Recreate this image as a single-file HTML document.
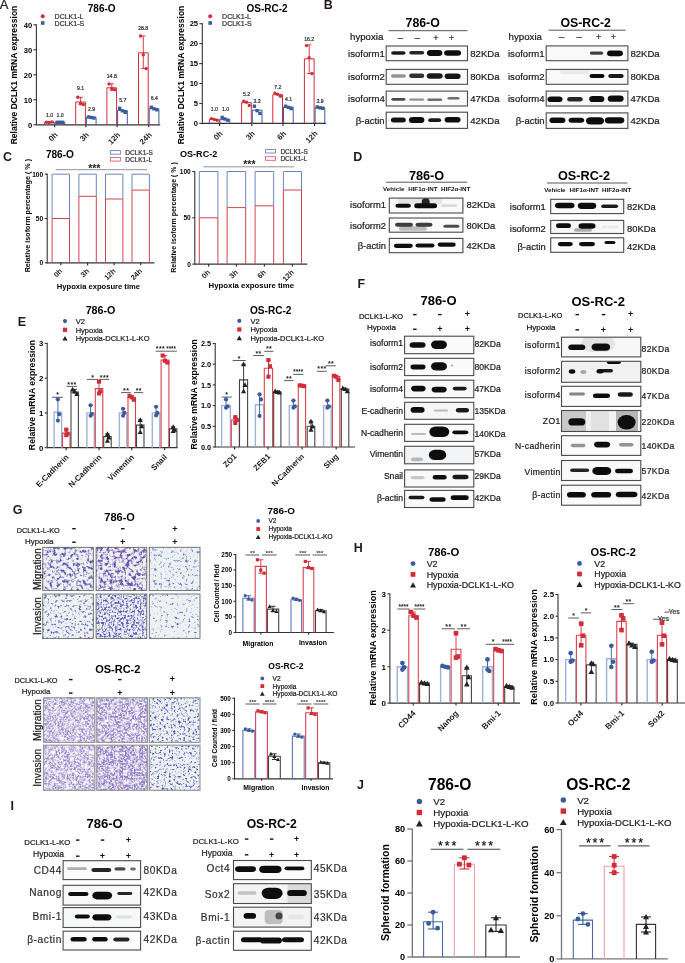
<!DOCTYPE html>
<html><head><meta charset="utf-8"><style>
html,body{margin:0;padding:0;background:#fff;}
svg{display:block;font-family:"Liberation Sans", sans-serif;}
</style></head><body>
<svg style="will-change:transform" width="685" height="963" viewBox="0 0 685 963">
<defs>
<filter id="bl" x="-30%" y="-80%" width="160%" height="260%"><feGaussianBlur stdDeviation="0.7"/></filter>
<filter id="fA" x="0" y="0" width="1" height="1" filterUnits="objectBoundingBox" color-interpolation-filters="sRGB"><feTurbulence type="fractalNoise" baseFrequency="0.3" numOctaves="3" seed="3"/><feColorMatrix type="matrix" values="0 0 0 0 0.38  0 0 0 0 0.32  0 0 0 0 0.7  -4 0 0 0 2.080"/><feGaussianBlur stdDeviation="0.4"/></filter><filter id="fB" x="0" y="0" width="1" height="1" filterUnits="objectBoundingBox" color-interpolation-filters="sRGB"><feTurbulence type="fractalNoise" baseFrequency="0.3" numOctaves="3" seed="5"/><feColorMatrix type="matrix" values="0 0 0 0 0.42  0 0 0 0 0.31  0 0 0 0 0.68  -4 0 0 0 2.199"/><feGaussianBlur stdDeviation="0.4"/></filter><filter id="fC" x="0" y="0" width="1" height="1" filterUnits="objectBoundingBox" color-interpolation-filters="sRGB"><feTurbulence type="fractalNoise" baseFrequency="0.35" numOctaves="3" seed="8"/><feColorMatrix type="matrix" values="0 0 0 0 0.38  0 0 0 0 0.45  0 0 0 0 0.8  -4 0 0 0 1.742"/><feGaussianBlur stdDeviation="0.4"/></filter><filter id="iA" x="0" y="0" width="1" height="1" filterUnits="objectBoundingBox" color-interpolation-filters="sRGB"><feTurbulence type="fractalNoise" baseFrequency="0.38" numOctaves="3" seed="11"/><feColorMatrix type="matrix" values="0 0 0 0 0.33  0 0 0 0 0.36  0 0 0 0 0.74  -4 0 0 0 1.846"/><feGaussianBlur stdDeviation="0.4"/></filter><filter id="iB" x="0" y="0" width="1" height="1" filterUnits="objectBoundingBox" color-interpolation-filters="sRGB"><feTurbulence type="fractalNoise" baseFrequency="0.45" numOctaves="3" seed="13"/><feColorMatrix type="matrix" values="0 0 0 0 0.34  0 0 0 0 0.35  0 0 0 0 0.74  -4 0 0 0 2.214"/><feGaussianBlur stdDeviation="0.35"/></filter><filter id="iC" x="0" y="0" width="1" height="1" filterUnits="objectBoundingBox" color-interpolation-filters="sRGB"><feTurbulence type="fractalNoise" baseFrequency="0.35" numOctaves="3" seed="17"/><feColorMatrix type="matrix" values="0 0 0 0 0.3  0 0 0 0 0.34  0 0 0 0 0.76  -4 0 0 0 1.586"/><feGaussianBlur stdDeviation="0.4"/></filter><filter id="oA" x="0" y="0" width="1" height="1" filterUnits="objectBoundingBox" color-interpolation-filters="sRGB"><feTurbulence type="fractalNoise" baseFrequency="0.55" numOctaves="3" seed="21"/><feColorMatrix type="matrix" values="0 0 0 0 0.6  0 0 0 0 0.53  0 0 0 0 0.8  -3 0 0 0 2.016"/><feGaussianBlur stdDeviation="0.3"/></filter><filter id="oB" x="0" y="0" width="1" height="1" filterUnits="objectBoundingBox" color-interpolation-filters="sRGB"><feTurbulence type="fractalNoise" baseFrequency="0.55" numOctaves="3" seed="23"/><feColorMatrix type="matrix" values="0 0 0 0 0.58  0 0 0 0 0.5  0 0 0 0 0.79  -3 0 0 0 2.057"/><feGaussianBlur stdDeviation="0.3"/></filter><filter id="oC" x="0" y="0" width="1" height="1" filterUnits="objectBoundingBox" color-interpolation-filters="sRGB"><feTurbulence type="fractalNoise" baseFrequency="0.42" numOctaves="3" seed="29"/><feColorMatrix type="matrix" values="0 0 0 0 0.28  0 0 0 0 0.32  0 0 0 0 0.74  -4 0 0 0 1.940"/><feGaussianBlur stdDeviation="0.4"/></filter><filter id="oA2" x="0" y="0" width="1" height="1" filterUnits="objectBoundingBox" color-interpolation-filters="sRGB"><feTurbulence type="fractalNoise" baseFrequency="0.55" numOctaves="3" seed="31"/><feColorMatrix type="matrix" values="0 0 0 0 0.6  0 0 0 0 0.53  0 0 0 0 0.8  -3 0 0 0 2.000"/><feGaussianBlur stdDeviation="0.3"/></filter><filter id="oB2" x="0" y="0" width="1" height="1" filterUnits="objectBoundingBox" color-interpolation-filters="sRGB"><feTurbulence type="fractalNoise" baseFrequency="0.55" numOctaves="3" seed="33"/><feColorMatrix type="matrix" values="0 0 0 0 0.56  0 0 0 0 0.48  0 0 0 0 0.78  -3 0 0 0 2.121"/><feGaussianBlur stdDeviation="0.3"/></filter><filter id="oC2" x="0" y="0" width="1" height="1" filterUnits="objectBoundingBox" color-interpolation-filters="sRGB"><feTurbulence type="fractalNoise" baseFrequency="0.42" numOctaves="3" seed="37"/><feColorMatrix type="matrix" values="0 0 0 0 0.28  0 0 0 0 0.32  0 0 0 0 0.74  -4 0 0 0 1.892"/><feGaussianBlur stdDeviation="0.4"/></filter><filter id="wm" x="0" y="0" width="1" height="1" filterUnits="objectBoundingBox" color-interpolation-filters="sRGB"><feTurbulence type="fractalNoise" baseFrequency="0.2" numOctaves="2" seed="41"/><feColorMatrix type="matrix" values="0 0 0 0 1  0 0 0 0 1  0 0 0 0 1  3.0 0 0 0 -1.45"/></filter><filter id="wm2" x="0" y="0" width="1" height="1" filterUnits="objectBoundingBox" color-interpolation-filters="sRGB"><feTurbulence type="fractalNoise" baseFrequency="0.2" numOctaves="2" seed="43"/><feColorMatrix type="matrix" values="0 0 0 0 1  0 0 0 0 1  0 0 0 0 1  3.0 0 0 0 -1.45"/></filter>
</defs>
<rect width="685" height="963" fill="#fff"/>
<text x="-0.3" y="9.4" font-size="13" fill="#231815" stroke="#231815" stroke-width="0.22">A</text>
<text x="323.7" y="9.3" font-size="12.5" font-weight="bold" fill="#231815">B</text>
<text x="3.0" y="161.1" font-size="12.5" font-weight="bold" fill="#231815">C</text>
<text x="353.2" y="161.0" font-size="12.5" font-weight="bold" fill="#231815">D</text>
<text x="17.8" y="326.0" font-size="12.5" font-weight="bold" fill="#231815">E</text>
<text x="357.4" y="287.7" font-size="12.5" font-weight="bold" fill="#231815">F</text>
<text x="12.7" y="513.5" font-size="12.5" font-weight="bold" fill="#231815">G</text>
<text x="353.7" y="551.8" font-size="12.5" font-weight="bold" fill="#231815">H</text>
<text x="10.4" y="809.9" font-size="12.5" font-weight="bold" fill="#231815">I</text>
<text x="357.1" y="788.9" font-size="12.5" font-weight="bold" fill="#231815">J</text>
<text x="101.7" y="12.3" font-size="10" font-weight="bold" text-anchor="middle">786-O</text>
<circle cx="42.7" cy="16.3" r="2.0" fill="#d12c38"/>
<text x="54.6" y="18.8" font-size="7" fill="#333" stroke="#333" stroke-width="0.22">DCLK1-L</text>
<rect x="40.9" y="21.2" width="3.6" height="3.6" fill="#3b5b9c"/>
<text x="54.6" y="25.5" font-size="7" fill="#333" stroke="#333" stroke-width="0.22">DCLK1-S</text>
<line x1="36.4" y1="24.2" x2="36.4" y2="125.3" stroke="#333" stroke-width="1.1"/>
<line x1="33.4" y1="124.8" x2="36.4" y2="124.8" stroke="#333" stroke-width="1.1"/>
<text x="32.2" y="127.5" font-size="7.6" font-weight="bold" text-anchor="end">0</text>
<line x1="33.4" y1="99.8" x2="36.4" y2="99.8" stroke="#333" stroke-width="1.1"/>
<text x="32.2" y="102.5" font-size="7.6" font-weight="bold" text-anchor="end">10</text>
<line x1="33.4" y1="74.8" x2="36.4" y2="74.8" stroke="#333" stroke-width="1.1"/>
<text x="32.2" y="77.5" font-size="7.6" font-weight="bold" text-anchor="end">20</text>
<line x1="33.4" y1="49.8" x2="36.4" y2="49.8" stroke="#333" stroke-width="1.1"/>
<text x="32.2" y="52.5" font-size="7.6" font-weight="bold" text-anchor="end">30</text>
<line x1="33.4" y1="24.8" x2="36.4" y2="24.8" stroke="#333" stroke-width="1.1"/>
<text x="32.2" y="27.5" font-size="7.6" font-weight="bold" text-anchor="end">40</text>
<line x1="36.4" y1="124.8" x2="160.2" y2="124.8" stroke="#333" stroke-width="1.2"/>
<line x1="54.6" y1="124.8" x2="54.6" y2="127.3" stroke="#333" stroke-width="1.2"/>
<line x1="85.9" y1="124.8" x2="85.9" y2="127.3" stroke="#333" stroke-width="1.2"/>
<line x1="117.1" y1="124.8" x2="117.1" y2="127.3" stroke="#333" stroke-width="1.2"/>
<line x1="148.7" y1="124.8" x2="148.7" y2="127.3" stroke="#333" stroke-width="1.2"/>
<text transform="translate(14.3,75.0) rotate(-90)" y="3.06" font-size="8.5" font-weight="bold" text-anchor="middle">Relative DCLK1 mRNA expression</text>
<path d="M44.4 124.8V122.3H54.1V124.8" fill="none" stroke="#d12c38" stroke-width="1.0"/>
<circle cx="46.5" cy="122.3" r="1.7" fill="#d12c38"/>
<circle cx="49.2" cy="122.5" r="1.7" fill="#d12c38"/>
<circle cx="52.0" cy="122.0" r="1.7" fill="#d12c38"/>
<path d="M55.1 124.8V122.3H64.8V124.8" fill="none" stroke="#3b5b9c" stroke-width="1.0"/>
<rect x="55.5" y="120.6" width="3.4" height="3.4" fill="#3b5b9c"/>
<rect x="58.2" y="120.6" width="3.4" height="3.4" fill="#3b5b9c"/>
<rect x="61.0" y="120.6" width="3.4" height="3.4" fill="#3b5b9c"/>
<path d="M75.7 124.8V102.0H85.4V124.8" fill="none" stroke="#d12c38" stroke-width="1.0"/>
<line x1="80.6" y1="104.8" x2="80.6" y2="97.3" stroke="#d12c38" stroke-width="0.9"/>
<line x1="78.4" y1="97.3" x2="82.7" y2="97.3" stroke="#d12c38" stroke-width="0.9"/>
<line x1="78.4" y1="104.8" x2="82.7" y2="104.8" stroke="#d12c38" stroke-width="0.9"/>
<circle cx="77.8" cy="97.3" r="1.7" fill="#d12c38"/>
<circle cx="80.6" cy="103.3" r="1.7" fill="#d12c38"/>
<circle cx="83.3" cy="104.5" r="1.7" fill="#d12c38"/>
<path d="M86.4 124.8V117.5H96.1V124.8" fill="none" stroke="#3b5b9c" stroke-width="1.0"/>
<rect x="86.8" y="115.3" width="3.4" height="3.4" fill="#3b5b9c"/>
<rect x="89.5" y="115.8" width="3.4" height="3.4" fill="#3b5b9c"/>
<rect x="92.3" y="116.3" width="3.4" height="3.4" fill="#3b5b9c"/>
<path d="M106.9 124.8V87.8H116.6V124.8" fill="none" stroke="#d12c38" stroke-width="1.0"/>
<line x1="111.8" y1="90.3" x2="111.8" y2="83.8" stroke="#d12c38" stroke-width="0.9"/>
<line x1="109.6" y1="83.8" x2="113.9" y2="83.8" stroke="#d12c38" stroke-width="0.9"/>
<line x1="109.6" y1="90.3" x2="113.9" y2="90.3" stroke="#d12c38" stroke-width="0.9"/>
<circle cx="109.0" cy="84.0" r="1.7" fill="#d12c38"/>
<circle cx="111.8" cy="88.5" r="1.7" fill="#d12c38"/>
<circle cx="114.5" cy="89.8" r="1.7" fill="#d12c38"/>
<path d="M117.6 124.8V110.5H127.3V124.8" fill="none" stroke="#3b5b9c" stroke-width="1.0"/>
<rect x="118.0" y="106.6" width="3.4" height="3.4" fill="#3b5b9c"/>
<rect x="120.7" y="109.1" width="3.4" height="3.4" fill="#3b5b9c"/>
<rect x="123.5" y="110.6" width="3.4" height="3.4" fill="#3b5b9c"/>
<path d="M138.5 124.8V52.8H148.2V124.8" fill="none" stroke="#d12c38" stroke-width="1.0"/>
<line x1="143.3" y1="68.5" x2="143.3" y2="36.0" stroke="#d12c38" stroke-width="0.9"/>
<line x1="141.2" y1="36.0" x2="145.5" y2="36.0" stroke="#d12c38" stroke-width="0.9"/>
<line x1="141.2" y1="68.5" x2="145.5" y2="68.5" stroke="#d12c38" stroke-width="0.9"/>
<circle cx="140.6" cy="36.0" r="1.7" fill="#d12c38"/>
<circle cx="143.3" cy="54.8" r="1.7" fill="#d12c38"/>
<circle cx="146.1" cy="68.5" r="1.7" fill="#d12c38"/>
<path d="M149.2 124.8V108.8H158.9V124.8" fill="none" stroke="#3b5b9c" stroke-width="1.0"/>
<rect x="149.6" y="105.6" width="3.4" height="3.4" fill="#3b5b9c"/>
<rect x="152.3" y="107.1" width="3.4" height="3.4" fill="#3b5b9c"/>
<rect x="155.1" y="108.1" width="3.4" height="3.4" fill="#3b5b9c"/>
<text x="49.6" y="117.3" font-size="5.2" text-anchor="middle" fill="#333" stroke="#333" stroke-width="0.22">1.0</text>
<text x="60.0" y="117.3" font-size="5.2" text-anchor="middle" fill="#333" stroke="#333" stroke-width="0.22">1.0</text>
<text x="80.5" y="89.5" font-size="5.2" text-anchor="middle" fill="#333" stroke="#333" stroke-width="0.22">9.1</text>
<text x="91.5" y="111.1" font-size="5.2" text-anchor="middle" fill="#333" stroke="#333" stroke-width="0.22">2.9</text>
<text x="111.8" y="78.1" font-size="5.2" text-anchor="middle" fill="#333" stroke="#333" stroke-width="0.22">14.8</text>
<text x="122.8" y="101.9" font-size="5.2" text-anchor="middle" fill="#333" stroke="#333" stroke-width="0.22">5.7</text>
<text x="143.2" y="29.7" font-size="5.2" text-anchor="middle" fill="#333" stroke="#333" stroke-width="0.22">28.8</text>
<text x="154.3" y="99.9" font-size="5.2" text-anchor="middle" fill="#333" stroke="#333" stroke-width="0.22">6.4</text>
<text transform="translate(58.2,135.4) rotate(-45)" font-size="7.8" font-weight="bold" text-anchor="end" fill="#1a1a1a">0h</text>
<text transform="translate(89.5,135.4) rotate(-45)" font-size="7.8" font-weight="bold" text-anchor="end" fill="#1a1a1a">3h</text>
<text transform="translate(120.7,135.4) rotate(-45)" font-size="7.8" font-weight="bold" text-anchor="end" fill="#1a1a1a">12h</text>
<text transform="translate(152.3,135.4) rotate(-45)" font-size="7.8" font-weight="bold" text-anchor="end" fill="#1a1a1a">24h</text>
<text x="267.0" y="12.3" font-size="10" font-weight="bold" text-anchor="middle">OS-RC-2</text>
<circle cx="210.2" cy="16.3" r="2.0" fill="#d12c38"/>
<text x="222.1" y="18.8" font-size="7" fill="#333" stroke="#333" stroke-width="0.22">DCLK1-L</text>
<rect x="208.4" y="21.2" width="3.6" height="3.6" fill="#3b5b9c"/>
<text x="222.1" y="25.5" font-size="7" fill="#333" stroke="#333" stroke-width="0.22">DCLK1-S</text>
<line x1="202.3" y1="23.1" x2="202.3" y2="124.0" stroke="#333" stroke-width="1.1"/>
<line x1="199.3" y1="123.4" x2="202.3" y2="123.4" stroke="#333" stroke-width="1.1"/>
<text x="198.1" y="126.1" font-size="7.6" font-weight="bold" text-anchor="end">0</text>
<line x1="199.3" y1="103.5" x2="202.3" y2="103.5" stroke="#333" stroke-width="1.1"/>
<text x="198.1" y="106.2" font-size="7.6" font-weight="bold" text-anchor="end">5</text>
<line x1="199.3" y1="83.5" x2="202.3" y2="83.5" stroke="#333" stroke-width="1.1"/>
<text x="198.1" y="86.2" font-size="7.6" font-weight="bold" text-anchor="end">10</text>
<line x1="199.3" y1="63.6" x2="202.3" y2="63.6" stroke="#333" stroke-width="1.1"/>
<text x="198.1" y="66.3" font-size="7.6" font-weight="bold" text-anchor="end">15</text>
<line x1="199.3" y1="43.6" x2="202.3" y2="43.6" stroke="#333" stroke-width="1.1"/>
<text x="198.1" y="46.3" font-size="7.6" font-weight="bold" text-anchor="end">20</text>
<line x1="199.3" y1="23.7" x2="202.3" y2="23.7" stroke="#333" stroke-width="1.1"/>
<text x="198.1" y="26.4" font-size="7.6" font-weight="bold" text-anchor="end">25</text>
<line x1="202.3" y1="123.4" x2="326.1" y2="123.4" stroke="#333" stroke-width="1.2"/>
<line x1="219.6" y1="123.4" x2="219.6" y2="125.9" stroke="#333" stroke-width="1.2"/>
<line x1="251.8" y1="123.4" x2="251.8" y2="125.9" stroke="#333" stroke-width="1.2"/>
<line x1="283.0" y1="123.4" x2="283.0" y2="125.9" stroke="#333" stroke-width="1.2"/>
<line x1="314.6" y1="123.4" x2="314.6" y2="125.9" stroke="#333" stroke-width="1.2"/>
<text transform="translate(180.5,75.0) rotate(-90)" y="3.06" font-size="8.5" font-weight="bold" text-anchor="middle">Relative DCLK1 mRNA expression</text>
<path d="M209.4 123.4V119.4H219.1V123.4" fill="none" stroke="#d12c38" stroke-width="1.0"/>
<circle cx="211.5" cy="118.6" r="1.7" fill="#d12c38"/>
<circle cx="214.2" cy="119.4" r="1.7" fill="#d12c38"/>
<circle cx="217.0" cy="120.2" r="1.7" fill="#d12c38"/>
<path d="M220.1 123.4V119.4H229.8V123.4" fill="none" stroke="#3b5b9c" stroke-width="1.0"/>
<rect x="220.5" y="115.7" width="3.4" height="3.4" fill="#3b5b9c"/>
<rect x="223.2" y="117.3" width="3.4" height="3.4" fill="#3b5b9c"/>
<rect x="226.0" y="118.5" width="3.4" height="3.4" fill="#3b5b9c"/>
<path d="M241.6 123.4V102.7H251.3V123.4" fill="none" stroke="#d12c38" stroke-width="1.0"/>
<circle cx="243.7" cy="101.1" r="1.7" fill="#d12c38"/>
<circle cx="246.5" cy="102.3" r="1.7" fill="#d12c38"/>
<circle cx="249.2" cy="105.4" r="1.7" fill="#d12c38"/>
<path d="M252.3 123.4V110.2H262.0V123.4" fill="none" stroke="#3b5b9c" stroke-width="1.0"/>
<rect x="252.7" y="104.5" width="3.4" height="3.4" fill="#3b5b9c"/>
<rect x="255.4" y="108.9" width="3.4" height="3.4" fill="#3b5b9c"/>
<rect x="258.2" y="111.7" width="3.4" height="3.4" fill="#3b5b9c"/>
<path d="M272.8 123.4V94.7H282.5V123.4" fill="none" stroke="#d12c38" stroke-width="1.0"/>
<circle cx="274.9" cy="93.1" r="1.7" fill="#d12c38"/>
<circle cx="277.6" cy="94.3" r="1.7" fill="#d12c38"/>
<circle cx="280.4" cy="96.3" r="1.7" fill="#d12c38"/>
<path d="M283.5 123.4V107.0H293.2V123.4" fill="none" stroke="#3b5b9c" stroke-width="1.0"/>
<rect x="283.9" y="104.5" width="3.4" height="3.4" fill="#3b5b9c"/>
<rect x="286.7" y="105.7" width="3.4" height="3.4" fill="#3b5b9c"/>
<rect x="289.4" y="106.9" width="3.4" height="3.4" fill="#3b5b9c"/>
<path d="M304.4 123.4V58.8H314.1V123.4" fill="none" stroke="#d12c38" stroke-width="1.0"/>
<line x1="309.2" y1="73.5" x2="309.2" y2="44.8" stroke="#d12c38" stroke-width="0.9"/>
<line x1="307.1" y1="44.8" x2="311.4" y2="44.8" stroke="#d12c38" stroke-width="0.9"/>
<line x1="307.1" y1="73.5" x2="311.4" y2="73.5" stroke="#d12c38" stroke-width="0.9"/>
<circle cx="306.5" cy="45.6" r="1.7" fill="#d12c38"/>
<circle cx="309.2" cy="57.6" r="1.7" fill="#d12c38"/>
<circle cx="312.0" cy="73.5" r="1.7" fill="#d12c38"/>
<path d="M315.1 123.4V107.8H324.8V123.4" fill="none" stroke="#3b5b9c" stroke-width="1.0"/>
<rect x="315.5" y="105.3" width="3.4" height="3.4" fill="#3b5b9c"/>
<rect x="318.3" y="106.1" width="3.4" height="3.4" fill="#3b5b9c"/>
<rect x="321.0" y="106.5" width="3.4" height="3.4" fill="#3b5b9c"/>
<text x="214.4" y="111.1" font-size="5.2" text-anchor="middle" fill="#333" stroke="#333" stroke-width="0.22">1.0</text>
<text x="225.6" y="111.1" font-size="5.2" text-anchor="middle" fill="#333" stroke="#333" stroke-width="0.22">1.0</text>
<text x="246.5" y="96.2" font-size="5.2" text-anchor="middle" fill="#333" stroke="#333" stroke-width="0.22">5.2</text>
<text x="257.0" y="102.9" font-size="5.2" text-anchor="middle" fill="#333" stroke="#333" stroke-width="0.22">3.3</text>
<text x="277.8" y="88.8" font-size="5.2" text-anchor="middle" fill="#333" stroke="#333" stroke-width="0.22">7.2</text>
<text x="288.6" y="100.7" font-size="5.2" text-anchor="middle" fill="#333" stroke="#333" stroke-width="0.22">4.1</text>
<text x="309.2" y="40.9" font-size="5.2" text-anchor="middle" fill="#333" stroke="#333" stroke-width="0.22">16.2</text>
<text x="320.0" y="103.2" font-size="5.2" text-anchor="middle" fill="#333" stroke="#333" stroke-width="0.22">3.9</text>
<text transform="translate(223.2,134.0) rotate(-45)" font-size="7.8" font-weight="bold" text-anchor="end" fill="#1a1a1a">0h</text>
<text transform="translate(255.4,134.0) rotate(-45)" font-size="7.8" font-weight="bold" text-anchor="end" fill="#1a1a1a">3h</text>
<text transform="translate(286.6,134.0) rotate(-45)" font-size="7.8" font-weight="bold" text-anchor="end" fill="#1a1a1a">6h</text>
<text transform="translate(318.2,134.0) rotate(-45)" font-size="7.8" font-weight="bold" text-anchor="end" fill="#1a1a1a">12h</text>
<text x="422.7" y="27.4" font-size="12.3" font-weight="bold" text-anchor="middle">786-O</text>
<line x1="388.6" y1="30.7" x2="467.4" y2="30.7" stroke="#444" stroke-width="0.9"/>
<text x="350.0" y="40.1" font-size="9.7" fill="#222" stroke="#222" stroke-width="0.22">hypoxia</text>
<text x="400.4" y="41.0" font-size="9.5" text-anchor="middle" fill="#333" stroke="#333" stroke-width="0.22">–</text>
<text x="417.5" y="41.0" font-size="9.5" text-anchor="middle" fill="#333" stroke="#333" stroke-width="0.22">–</text>
<text x="435.9" y="40.8" font-size="9" text-anchor="middle" fill="#333" stroke="#333" stroke-width="0.22">+</text>
<text x="451.7" y="40.8" font-size="9" text-anchor="middle" fill="#333" stroke="#333" stroke-width="0.22">+</text>
<rect x="386.2" y="46.0" width="81.3" height="14.7" fill="#fbfbfb"/>
<clipPath id="k1"><rect x="386.2" y="46.0" width="81.3" height="14.7"/></clipPath><g clip-path="url(#k1)">
<rect x="391.1" y="51.2" width="14.5" height="3.6" rx="2.2" fill="#111" fill-opacity="0.95" filter="url(#bl)"/>
<rect x="409.2" y="51.1" width="15.0" height="3.4" rx="2.0" fill="#111" fill-opacity="0.90" filter="url(#bl)"/>
<rect x="426.9" y="50.0" width="15.5" height="5.9" rx="3.6" fill="#111" fill-opacity="1.00" filter="url(#bl)"/>
<rect x="444.1" y="50.2" width="17.0" height="5.6" rx="3.4" fill="#111" fill-opacity="1.00" filter="url(#bl)"/>
</g>
<rect x="386.2" y="46.0" width="81.3" height="14.7" fill="none" stroke="#4a4a4a" stroke-width="1.1"/>
<text x="384.7" y="56.8" font-size="9.55" text-anchor="end" fill="#222" stroke="#222" stroke-width="0.22">isoform1</text>
<text x="470.3" y="56.8" font-size="9.55" fill="#222" stroke="#222" stroke-width="0.22">82KDa</text>
<rect x="386.2" y="69.4" width="81.3" height="14.9" fill="#fbfbfb"/>
<clipPath id="k2"><rect x="386.2" y="69.4" width="81.3" height="14.9"/></clipPath><g clip-path="url(#k2)">
<rect x="390.9" y="74.3" width="15.0" height="3.4" rx="2.0" fill="#111" fill-opacity="0.45" filter="url(#bl)"/>
<rect x="409.2" y="73.6" width="15.0" height="4.5" rx="2.7" fill="#111" fill-opacity="0.85" filter="url(#bl)"/>
<rect x="426.7" y="73.2" width="16.0" height="5.6" rx="3.4" fill="#111" fill-opacity="0.95" filter="url(#bl)"/>
<rect x="444.6" y="73.4" width="16.0" height="5.6" rx="3.4" fill="#111" fill-opacity="0.97" filter="url(#bl)"/>
</g>
<rect x="386.2" y="69.4" width="81.3" height="14.9" fill="none" stroke="#4a4a4a" stroke-width="1.1"/>
<text x="384.7" y="80.3" font-size="9.55" text-anchor="end" fill="#222" stroke="#222" stroke-width="0.22">isoform2</text>
<text x="470.3" y="80.3" font-size="9.55" fill="#222" stroke="#222" stroke-width="0.22">80KDa</text>
<rect x="386.2" y="91.1" width="81.3" height="14.9" fill="#fbfbfb"/>
<clipPath id="k3"><rect x="386.2" y="91.1" width="81.3" height="14.9"/></clipPath><g clip-path="url(#k3)">
<rect x="391.4" y="97.9" width="14.0" height="2.8" rx="1.7" fill="#111" fill-opacity="0.75" filter="url(#bl)"/>
<rect x="409.2" y="98.5" width="15.0" height="2.2" rx="1.3" fill="#111" fill-opacity="0.45" filter="url(#bl)"/>
<rect x="427.2" y="98.4" width="15.0" height="2.5" rx="1.5" fill="#111" fill-opacity="0.60" filter="url(#bl)"/>
<rect x="447.5" y="97.0" width="12.0" height="2.5" rx="1.5" fill="#111" fill-opacity="0.60" filter="url(#bl)"/>
</g>
<rect x="386.2" y="91.1" width="81.3" height="14.9" fill="none" stroke="#4a4a4a" stroke-width="1.1"/>
<text x="384.7" y="102.0" font-size="9.55" text-anchor="end" fill="#222" stroke="#222" stroke-width="0.22">isoform4</text>
<text x="470.3" y="102.0" font-size="9.55" fill="#222" stroke="#222" stroke-width="0.22">47KDa</text>
<rect x="386.2" y="112.2" width="81.3" height="16.2" fill="#fbfbfb"/>
<clipPath id="k4"><rect x="386.2" y="112.2" width="81.3" height="16.2"/></clipPath><g clip-path="url(#k4)">
<rect x="390.9" y="117.5" width="15.0" height="5.0" rx="3.0" fill="#111" fill-opacity="0.97" filter="url(#bl)"/>
<rect x="408.9" y="116.9" width="15.5" height="6.2" rx="3.7" fill="#111" fill-opacity="1.00" filter="url(#bl)"/>
<rect x="428.2" y="118.2" width="13.0" height="3.9" rx="2.4" fill="#111" fill-opacity="0.95" filter="url(#bl)"/>
<rect x="444.6" y="117.0" width="16.0" height="5.6" rx="3.4" fill="#111" fill-opacity="1.00" filter="url(#bl)"/>
</g>
<rect x="386.2" y="112.2" width="81.3" height="16.2" fill="none" stroke="#4a4a4a" stroke-width="1.1"/>
<text x="384.7" y="123.7" font-size="9.55" text-anchor="end" fill="#222" stroke="#222" stroke-width="0.22">β-actin</text>
<text x="470.3" y="123.7" font-size="9.55" fill="#222" stroke="#222" stroke-width="0.22">42KDa</text>
<text x="585.7" y="26.7" font-size="12.3" font-weight="bold" text-anchor="middle">OS-RC-2</text>
<line x1="548.6" y1="30.2" x2="625.6" y2="30.2" stroke="#444" stroke-width="0.9"/>
<text x="508.6" y="39.5" font-size="9.7" fill="#222" stroke="#222" stroke-width="0.22">hypoxia</text>
<text x="561.6" y="40.4" font-size="9.5" text-anchor="middle" fill="#333" stroke="#333" stroke-width="0.22">–</text>
<text x="579.1" y="40.4" font-size="9.5" text-anchor="middle" fill="#333" stroke="#333" stroke-width="0.22">–</text>
<text x="598.6" y="40.2" font-size="9" text-anchor="middle" fill="#333" stroke="#333" stroke-width="0.22">+</text>
<text x="613.4" y="40.2" font-size="9" text-anchor="middle" fill="#333" stroke="#333" stroke-width="0.22">+</text>
<rect x="546.2" y="45.9" width="81.7" height="14.8" fill="#f9f9f9"/>
<clipPath id="k5"><rect x="546.2" y="45.9" width="81.7" height="14.8"/></clipPath><g clip-path="url(#k5)">
<rect x="589.8" y="51.4" width="13.5" height="3.4" rx="2.0" fill="#111" fill-opacity="0.80" filter="url(#bl)"/>
<rect x="607.0" y="50.4" width="16.0" height="5.9" rx="3.6" fill="#111" fill-opacity="1.00" filter="url(#bl)"/>
</g>
<rect x="546.2" y="45.9" width="81.7" height="14.8" fill="none" stroke="#4a4a4a" stroke-width="1.1"/>
<text x="544.6" y="56.7" font-size="9.55" text-anchor="end" fill="#222" stroke="#222" stroke-width="0.22">isoform1</text>
<text x="630.4" y="56.7" font-size="9.55" fill="#222" stroke="#222" stroke-width="0.22">82KDa</text>
<rect x="546.2" y="69.4" width="81.7" height="14.9" fill="#f9f9f9"/>
<clipPath id="k6"><rect x="546.2" y="69.4" width="81.7" height="14.9"/></clipPath><g clip-path="url(#k6)">
<rect x="589.5" y="74.0" width="15.0" height="3.9" rx="2.4" fill="#111" fill-opacity="1.00" filter="url(#bl)"/>
<rect x="608.2" y="74.0" width="15.5" height="3.9" rx="2.4" fill="#111" fill-opacity="0.95" filter="url(#bl)"/>
<rect x="560.0" y="69.8" width="30.0" height="4.5" rx="2.7" fill="#111" fill-opacity="0.06" filter="url(#bl)"/>
</g>
<rect x="546.2" y="69.4" width="81.7" height="14.9" fill="none" stroke="#4a4a4a" stroke-width="1.1"/>
<text x="544.6" y="80.3" font-size="9.55" text-anchor="end" fill="#222" stroke="#222" stroke-width="0.22">isoform2</text>
<text x="630.4" y="80.3" font-size="9.55" fill="#222" stroke="#222" stroke-width="0.22">80KDa</text>
<rect x="546.2" y="91.1" width="81.7" height="14.9" fill="#f9f9f9"/>
<clipPath id="k7"><rect x="546.2" y="91.1" width="81.7" height="14.9"/></clipPath><g clip-path="url(#k7)">
<rect x="547.5" y="96.4" width="15.0" height="5.6" rx="3.4" fill="#111" fill-opacity="1.00" filter="url(#bl)"/>
<rect x="567.2" y="97.0" width="15.5" height="4.5" rx="2.7" fill="#111" fill-opacity="0.90" filter="url(#bl)"/>
<rect x="589.1" y="95.9" width="15.3" height="6.2" rx="3.7" fill="#111" fill-opacity="1.00" filter="url(#bl)"/>
<rect x="607.7" y="95.6" width="16.0" height="6.2" rx="3.7" fill="#111" fill-opacity="1.00" filter="url(#bl)"/>
</g>
<rect x="546.2" y="91.1" width="81.7" height="14.9" fill="none" stroke="#4a4a4a" stroke-width="1.1"/>
<text x="544.6" y="102.0" font-size="9.55" text-anchor="end" fill="#222" stroke="#222" stroke-width="0.22">isoform4</text>
<text x="630.4" y="102.0" font-size="9.55" fill="#222" stroke="#222" stroke-width="0.22">47KDa</text>
<rect x="546.2" y="112.9" width="81.7" height="15.5" fill="#fbfbfb"/>
<clipPath id="k8"><rect x="546.2" y="112.9" width="81.7" height="15.5"/></clipPath><g clip-path="url(#k8)">
<rect x="549.4" y="117.5" width="16.0" height="5.6" rx="3.4" fill="#111" fill-opacity="1.00" filter="url(#bl)"/>
<rect x="568.6" y="117.8" width="15.5" height="5.0" rx="3.0" fill="#111" fill-opacity="1.00" filter="url(#bl)"/>
<rect x="586.0" y="117.2" width="18.0" height="7.3" rx="4.4" fill="#111" fill-opacity="1.00" filter="url(#bl)"/>
<rect x="604.8" y="117.2" width="19.5" height="6.2" rx="3.7" fill="#111" fill-opacity="1.00" filter="url(#bl)"/>
</g>
<rect x="546.2" y="112.9" width="81.7" height="15.5" fill="none" stroke="#4a4a4a" stroke-width="1.1"/>
<text x="544.6" y="124.1" font-size="9.55" text-anchor="end" fill="#222" stroke="#222" stroke-width="0.22">β-actin</text>
<text x="630.4" y="124.1" font-size="9.55" fill="#222" stroke="#222" stroke-width="0.22">42KDa</text>
<text x="45.9" y="157.9" font-size="10.1" font-weight="bold">786-O</text>
<rect x="110.4" y="150.6" width="10.0" height="3.6" fill="#fff" stroke="#6b86bf" stroke-width="0.9"/>
<text x="125.3" y="154.7" font-size="6.5" fill="#333" stroke="#333" stroke-width="0.22">DCLK1-S</text>
<rect x="110.4" y="157.5" width="10.0" height="3.6" fill="#fff" stroke="#e0606a" stroke-width="0.9"/>
<text x="125.3" y="161.6" font-size="6.5" fill="#333" stroke="#333" stroke-width="0.22">DCLK1-L</text>
<line x1="55.8" y1="169.7" x2="147.0" y2="169.7" stroke="#777" stroke-width="0.8"/>
<text x="94.3" y="172.0" font-size="10.5" font-weight="bold" text-anchor="middle" fill="#222">***</text>
<line x1="47.2" y1="173.6" x2="47.2" y2="263.4" stroke="#333" stroke-width="1.1"/>
<line x1="44.7" y1="262.8" x2="47.2" y2="262.8" stroke="#333" stroke-width="1.1"/>
<text x="43.2" y="265.2" font-size="6.6" font-weight="bold" text-anchor="end">0</text>
<line x1="44.7" y1="218.5" x2="47.2" y2="218.5" stroke="#333" stroke-width="1.1"/>
<text x="43.2" y="220.9" font-size="6.6" font-weight="bold" text-anchor="end">50</text>
<line x1="44.7" y1="174.2" x2="47.2" y2="174.2" stroke="#333" stroke-width="1.1"/>
<text x="43.2" y="176.6" font-size="6.6" font-weight="bold" text-anchor="end">100</text>
<line x1="47.2" y1="262.8" x2="154.4" y2="262.8" stroke="#333" stroke-width="1.2"/>
<line x1="60.8" y1="262.8" x2="60.8" y2="265.3" stroke="#333" stroke-width="1.2"/>
<line x1="87.6" y1="262.8" x2="87.6" y2="265.3" stroke="#333" stroke-width="1.2"/>
<line x1="114.2" y1="262.8" x2="114.2" y2="265.3" stroke="#333" stroke-width="1.2"/>
<line x1="140.7" y1="262.8" x2="140.7" y2="265.3" stroke="#333" stroke-width="1.2"/>
<path d="M52.1 218.5V174.2H69.5V218.5" fill="none" stroke="#6b86bf" stroke-width="1"/>
<path d="M52.1 262.8V218.5H69.5V262.8" fill="none" stroke="#d8424e" stroke-width="1"/>
<path d="M78.9 196.3V174.2H96.3V196.3" fill="none" stroke="#6b86bf" stroke-width="1"/>
<path d="M78.9 262.8V196.3H96.3V262.8" fill="none" stroke="#d8424e" stroke-width="1"/>
<path d="M105.5 199.0V174.2H122.9V199.0" fill="none" stroke="#6b86bf" stroke-width="1"/>
<path d="M105.5 262.8V199.0H122.9V262.8" fill="none" stroke="#d8424e" stroke-width="1"/>
<path d="M132.0 190.1V174.2H149.4V190.1" fill="none" stroke="#6b86bf" stroke-width="1"/>
<path d="M132.0 262.8V190.1H149.4V262.8" fill="none" stroke="#d8424e" stroke-width="1"/>
<text transform="translate(27.5,215.6) rotate(-90)" y="2.59" font-size="7.2" font-weight="bold" text-anchor="middle">Relative isoform percentage ( % )</text>
<text transform="translate(62.8,271.6) rotate(-45)" font-size="7.4" font-weight="bold" text-anchor="end" fill="#1a1a1a">0h</text>
<text transform="translate(89.6,271.6) rotate(-45)" font-size="7.4" font-weight="bold" text-anchor="end" fill="#1a1a1a">3h</text>
<text transform="translate(116.2,271.6) rotate(-45)" font-size="7.4" font-weight="bold" text-anchor="end" fill="#1a1a1a">12h</text>
<text transform="translate(142.7,271.6) rotate(-45)" font-size="7.4" font-weight="bold" text-anchor="end" fill="#1a1a1a">24h</text>
<text x="98.4" y="289.1" font-size="7.6" font-weight="bold" text-anchor="middle">Hypoxia exposure time</text>
<text x="179.9" y="157.1" font-size="9.1" font-weight="bold">OS-RC-2</text>
<rect x="265.6" y="149.4" width="9.9" height="3.6" fill="#fff" stroke="#6b86bf" stroke-width="0.9"/>
<text x="280.4" y="153.5" font-size="6.5" fill="#333" stroke="#333" stroke-width="0.22">DCLK1-S</text>
<rect x="265.6" y="156.7" width="9.9" height="3.6" fill="#fff" stroke="#e0606a" stroke-width="0.9"/>
<text x="280.4" y="160.8" font-size="6.5" fill="#333" stroke="#333" stroke-width="0.22">DCLK1-L</text>
<line x1="203.5" y1="166.8" x2="294.1" y2="166.8" stroke="#777" stroke-width="0.8"/>
<text x="249.4" y="168.3" font-size="10.5" font-weight="bold" text-anchor="middle" fill="#222">***</text>
<line x1="194.8" y1="170.9" x2="194.8" y2="264.7" stroke="#333" stroke-width="1.1"/>
<line x1="192.3" y1="264.1" x2="194.8" y2="264.1" stroke="#333" stroke-width="1.1"/>
<text x="190.8" y="266.5" font-size="6.6" font-weight="bold" text-anchor="end">0</text>
<line x1="192.3" y1="217.8" x2="194.8" y2="217.8" stroke="#333" stroke-width="1.1"/>
<text x="190.8" y="220.2" font-size="6.6" font-weight="bold" text-anchor="end">50</text>
<line x1="192.3" y1="171.5" x2="194.8" y2="171.5" stroke="#333" stroke-width="1.1"/>
<text x="190.8" y="173.9" font-size="6.6" font-weight="bold" text-anchor="end">100</text>
<line x1="194.8" y1="264.1" x2="307.3" y2="264.1" stroke="#333" stroke-width="1.2"/>
<line x1="208.6" y1="264.1" x2="208.6" y2="266.6" stroke="#333" stroke-width="1.2"/>
<line x1="236.4" y1="264.1" x2="236.4" y2="266.6" stroke="#333" stroke-width="1.2"/>
<line x1="264.4" y1="264.1" x2="264.4" y2="266.6" stroke="#333" stroke-width="1.2"/>
<line x1="292.4" y1="264.1" x2="292.4" y2="266.6" stroke="#333" stroke-width="1.2"/>
<path d="M199.3 217.8V171.5H217.9V217.8" fill="none" stroke="#6b86bf" stroke-width="1"/>
<path d="M199.3 264.1V217.8H217.9V264.1" fill="none" stroke="#d8424e" stroke-width="1"/>
<path d="M227.1 207.6V171.5H245.7V207.6" fill="none" stroke="#6b86bf" stroke-width="1"/>
<path d="M227.1 264.1V207.6H245.7V264.1" fill="none" stroke="#d8424e" stroke-width="1"/>
<path d="M255.1 205.8V171.5H273.7V205.8" fill="none" stroke="#6b86bf" stroke-width="1"/>
<path d="M255.1 264.1V205.8H273.7V264.1" fill="none" stroke="#d8424e" stroke-width="1"/>
<path d="M283.4 190.0V171.5H301.5V190.0" fill="none" stroke="#6b86bf" stroke-width="1"/>
<path d="M283.4 264.1V190.0H301.5V264.1" fill="none" stroke="#d8424e" stroke-width="1"/>
<text transform="translate(173.2,217.5) rotate(-90)" y="2.52" font-size="7.0" font-weight="bold" text-anchor="middle">Relative isoform percentage ( % )</text>
<text transform="translate(210.6,272.9) rotate(-45)" font-size="7.4" font-weight="bold" text-anchor="end" fill="#1a1a1a">0h</text>
<text transform="translate(238.4,272.9) rotate(-45)" font-size="7.4" font-weight="bold" text-anchor="end" fill="#1a1a1a">3h</text>
<text transform="translate(266.4,272.9) rotate(-45)" font-size="7.4" font-weight="bold" text-anchor="end" fill="#1a1a1a">6h</text>
<text transform="translate(294.4,272.9) rotate(-45)" font-size="7.4" font-weight="bold" text-anchor="end" fill="#1a1a1a">12h</text>
<text x="251.3" y="288.0" font-size="7.8" font-weight="bold" text-anchor="middle">Hypoxia exposure time</text>
<text x="426.6" y="180.4" font-size="12.7" font-weight="bold" text-anchor="middle">786-O</text>
<line x1="386.0" y1="182.2" x2="467.2" y2="182.2" stroke="#444" stroke-width="0.9"/>
<text x="393.7" y="190.7" font-size="6.2" font-weight="bold" text-anchor="middle" fill="#111">Vehicle</text>
<text x="422.8" y="190.7" font-size="6.2" font-weight="bold" text-anchor="middle" fill="#111">HIF1α-INT</text>
<text x="455.6" y="190.7" font-size="6.2" font-weight="bold" text-anchor="middle" fill="#111">HIF2α-INT</text>
<rect x="389.3" y="198.1" width="73.6" height="14.9" fill="#f9f9f9"/>
<clipPath id="k9"><rect x="389.3" y="198.1" width="73.6" height="14.9"/></clipPath><g clip-path="url(#k9)">
<rect x="395.4" y="203.8" width="15.5" height="3.9" rx="2.4" fill="#111" fill-opacity="1.00" filter="url(#bl)"/>
<rect x="398.0" y="198.0" width="44.0" height="6.0" rx="2.0" fill="#111" fill-opacity="0.08" filter="url(#bl)"/>
<rect x="414.2" y="203.3" width="23.0" height="5.0" rx="3.0" fill="#111" fill-opacity="1.00" filter="url(#bl)"/>
<rect x="421.7" y="198.1" width="8.0" height="7.8" rx="4.0" fill="#111" fill-opacity="0.90" filter="url(#bl)"/>
<rect x="440.9" y="204.2" width="16.0" height="2.8" rx="1.7" fill="#111" fill-opacity="0.12" filter="url(#bl)"/>
</g>
<rect x="389.3" y="198.1" width="73.6" height="14.9" fill="none" stroke="#4a4a4a" stroke-width="1.1"/>
<text x="386.0" y="207.7" font-size="9.4" text-anchor="end" fill="#222" stroke="#222" stroke-width="0.22">isoform1</text>
<text x="466.5" y="207.7" font-size="9.4" fill="#222" stroke="#222" stroke-width="0.22">82KDa</text>
<rect x="389.3" y="218.0" width="73.6" height="14.2" fill="#fafafa"/>
<clipPath id="k10"><rect x="389.3" y="218.0" width="73.6" height="14.2"/></clipPath><g clip-path="url(#k10)">
<rect x="395.0" y="222.7" width="18.0" height="4.1" rx="2.5" fill="#111" fill-opacity="0.80" filter="url(#bl)"/>
<rect x="415.5" y="222.7" width="17.0" height="4.1" rx="2.5" fill="#111" fill-opacity="0.80" filter="url(#bl)"/>
<rect x="399.0" y="226.3" width="28.0" height="4.5" rx="2.7" fill="#111" fill-opacity="0.25" filter="url(#bl)"/>
<rect x="443.4" y="224.7" width="16.0" height="3.0" rx="1.8" fill="#111" fill-opacity="0.75" filter="url(#bl)"/>
</g>
<rect x="389.3" y="218.0" width="73.6" height="14.2" fill="none" stroke="#4a4a4a" stroke-width="1.1"/>
<text x="386.0" y="229.0" font-size="9.4" text-anchor="end" fill="#222" stroke="#222" stroke-width="0.22">isoform2</text>
<text x="466.5" y="229.0" font-size="9.4" fill="#222" stroke="#222" stroke-width="0.22">80KDa</text>
<rect x="389.3" y="238.4" width="73.6" height="14.3" fill="#fbfbfb"/>
<clipPath id="k11"><rect x="389.3" y="238.4" width="73.6" height="14.3"/></clipPath><g clip-path="url(#k11)">
<rect x="393.8" y="243.8" width="19.0" height="4.1" rx="2.5" fill="#111" fill-opacity="1.00" filter="url(#bl)"/>
<rect x="415.5" y="243.5" width="19.0" height="4.1" rx="2.5" fill="#111" fill-opacity="1.00" filter="url(#bl)"/>
<rect x="437.7" y="242.6" width="18.0" height="4.1" rx="2.5" fill="#111" fill-opacity="1.00" filter="url(#bl)"/>
</g>
<rect x="389.3" y="238.4" width="73.6" height="14.3" fill="none" stroke="#4a4a4a" stroke-width="1.1"/>
<text x="386.0" y="249.2" font-size="9.4" text-anchor="end" fill="#222" stroke="#222" stroke-width="0.22">β-actin</text>
<text x="466.5" y="249.2" font-size="9.4" fill="#222" stroke="#222" stroke-width="0.22">42KDa</text>
<text x="584.0" y="180.1" font-size="12.7" font-weight="bold" text-anchor="middle">OS-RC-2</text>
<line x1="547.0" y1="183.0" x2="627.5" y2="183.0" stroke="#444" stroke-width="0.9"/>
<text x="554.9" y="191.5" font-size="6.2" font-weight="bold" text-anchor="middle" fill="#111">Vehicle</text>
<text x="584.1" y="191.5" font-size="6.2" font-weight="bold" text-anchor="middle" fill="#111">HIF1α-INT</text>
<text x="616.7" y="191.5" font-size="6.2" font-weight="bold" text-anchor="middle" fill="#111">HIF2α-INT</text>
<rect x="550.7" y="199.3" width="73.0" height="14.3" fill="#fafafa"/>
<clipPath id="k12"><rect x="550.7" y="199.3" width="73.0" height="14.3"/></clipPath><g clip-path="url(#k12)">
<rect x="555.0" y="202.7" width="19.5" height="5.6" rx="3.4" fill="#111" fill-opacity="1.00" filter="url(#bl)"/>
<rect x="577.8" y="202.7" width="18.5" height="6.2" rx="3.7" fill="#111" fill-opacity="1.00" filter="url(#bl)"/>
<rect x="601.1" y="204.6" width="17.0" height="3.4" rx="2.0" fill="#111" fill-opacity="0.95" filter="url(#bl)"/>
</g>
<rect x="550.7" y="199.3" width="73.0" height="14.3" fill="none" stroke="#4a4a4a" stroke-width="1.1"/>
<text x="545.8" y="209.8" font-size="9.4" text-anchor="end" fill="#222" stroke="#222" stroke-width="0.22">isoform1</text>
<text x="627.0" y="209.8" font-size="9.4" fill="#222" stroke="#222" stroke-width="0.22">82KDa</text>
<rect x="550.7" y="220.4" width="73.0" height="13.1" fill="#f8f8f8"/>
<clipPath id="k13"><rect x="550.7" y="220.4" width="73.0" height="13.1"/></clipPath><g clip-path="url(#k13)">
<rect x="556.0" y="223.2" width="15.0" height="4.9" rx="3.0" fill="#111" fill-opacity="1.00" filter="url(#bl)"/>
<rect x="578.5" y="223.2" width="17.0" height="5.6" rx="3.4" fill="#111" fill-opacity="1.00" filter="url(#bl)"/>
<rect x="574.0" y="228.3" width="18.0" height="3.4" rx="2.0" fill="#111" fill-opacity="0.30" filter="url(#bl)"/>
<rect x="602.0" y="225.6" width="16.0" height="2.8" rx="1.7" fill="#111" fill-opacity="0.05" filter="url(#bl)"/>
</g>
<rect x="550.7" y="220.4" width="73.0" height="13.1" fill="none" stroke="#4a4a4a" stroke-width="1.1"/>
<text x="545.8" y="231.5" font-size="9.4" text-anchor="end" fill="#222" stroke="#222" stroke-width="0.22">isoform2</text>
<text x="627.0" y="231.5" font-size="9.4" fill="#222" stroke="#222" stroke-width="0.22">80KDa</text>
<rect x="550.7" y="237.8" width="73.0" height="14.5" fill="#fbfbfb"/>
<clipPath id="k14"><rect x="550.7" y="237.8" width="73.0" height="14.5"/></clipPath><g clip-path="url(#k14)">
<rect x="557.8" y="241.9" width="15.0" height="4.3" rx="2.6" fill="#111" fill-opacity="1.00" filter="url(#bl)"/>
<rect x="579.0" y="241.9" width="16.0" height="4.3" rx="2.6" fill="#111" fill-opacity="1.00" filter="url(#bl)"/>
<rect x="604.5" y="241.0" width="11.0" height="3.1" rx="1.9" fill="#111" fill-opacity="1.00" filter="url(#bl)"/>
</g>
<rect x="550.7" y="237.8" width="73.0" height="14.5" fill="none" stroke="#4a4a4a" stroke-width="1.1"/>
<text x="545.8" y="249.9" font-size="9.4" text-anchor="end" fill="#222" stroke="#222" stroke-width="0.22">β-actin</text>
<text x="627.0" y="249.9" font-size="9.4" fill="#222" stroke="#222" stroke-width="0.22">42KDa</text>
<text x="100.5" y="314.4" font-size="10.7" font-weight="bold" text-anchor="middle">786-O</text>
<circle cx="65.0" cy="321.1" r="2.1" fill="#3b5b9c"/>
<text x="75.7" y="323.8" font-size="7.5" fill="#222" stroke="#222" stroke-width="0.22">V2</text>
<rect x="62.9" y="327.7" width="4.2" height="4.2" fill="#d12c38"/>
<text x="75.7" y="332.5" font-size="7.5" fill="#222" stroke="#222" stroke-width="0.22">Hypoxia</text>
<path d="M65.0 335.9L67.6 340.6L62.4 340.6Z" fill="#222"/>
<text x="75.7" y="341.2" font-size="7.5" fill="#222" stroke="#222" stroke-width="0.22">Hypoxia-DCLK1-L-KO</text>
<text transform="translate(32.3,395.0) rotate(-90)" y="3.13" font-size="8.7" font-weight="bold" text-anchor="middle">Relative mRNA expression</text>
<line x1="47.2" y1="342.8" x2="47.2" y2="448.2" stroke="#333" stroke-width="1.1"/>
<line x1="44.7" y1="447.7" x2="47.2" y2="447.7" stroke="#333" stroke-width="1.1"/>
<text x="43.2" y="450.5" font-size="7.7" font-weight="bold" text-anchor="end">0</text>
<line x1="44.7" y1="412.9" x2="47.2" y2="412.9" stroke="#333" stroke-width="1.1"/>
<text x="43.2" y="415.7" font-size="7.7" font-weight="bold" text-anchor="end">1</text>
<line x1="44.7" y1="378.2" x2="47.2" y2="378.2" stroke="#333" stroke-width="1.1"/>
<text x="43.2" y="380.9" font-size="7.7" font-weight="bold" text-anchor="end">2</text>
<line x1="44.7" y1="343.4" x2="47.2" y2="343.4" stroke="#333" stroke-width="1.1"/>
<text x="43.2" y="346.2" font-size="7.7" font-weight="bold" text-anchor="end">3</text>
<line x1="47.2" y1="447.7" x2="177.7" y2="447.7" stroke="#333" stroke-width="1.2"/>
<line x1="66.2" y1="447.7" x2="66.2" y2="450.2" stroke="#333" stroke-width="1.2"/>
<line x1="99.1" y1="447.7" x2="99.1" y2="450.2" stroke="#333" stroke-width="1.2"/>
<line x1="131.7" y1="447.7" x2="131.7" y2="450.2" stroke="#333" stroke-width="1.2"/>
<line x1="164.6" y1="447.7" x2="164.6" y2="450.2" stroke="#333" stroke-width="1.2"/>
<path d="M54.1 447.7V412.2H61.6V447.7" fill="none" stroke="#9fb3d8" stroke-width="1.4"/>
<line x1="57.9" y1="420.6" x2="57.9" y2="399.4" stroke="#3b5b9c" stroke-width="0.9"/>
<line x1="55.6" y1="399.4" x2="60.1" y2="399.4" stroke="#3b5b9c" stroke-width="0.9"/>
<circle cx="57.9" cy="399.4" r="2.05" fill="#3b5b9c"/>
<circle cx="59.2" cy="414.3" r="2.05" fill="#3b5b9c"/>
<circle cx="57.9" cy="420.6" r="2.05" fill="#3b5b9c"/>
<path d="M62.5 447.7V433.1H70.0V447.7" fill="none" stroke="#d9434e" stroke-width="1.1"/>
<line x1="66.2" y1="435.2" x2="66.2" y2="429.6" stroke="#d12c38" stroke-width="0.9"/>
<line x1="64.0" y1="429.6" x2="68.5" y2="429.6" stroke="#d12c38" stroke-width="0.9"/>
<rect x="64.2" y="427.6" width="4.1" height="4.1" fill="#d12c38"/>
<rect x="65.5" y="431.7" width="4.1" height="4.1" fill="#d12c38"/>
<rect x="64.2" y="433.1" width="4.1" height="4.1" fill="#d12c38"/>
<path d="M71.0 447.7V392.1H78.4V447.7" fill="none" stroke="#444" stroke-width="1.1"/>
<line x1="74.7" y1="393.8" x2="74.7" y2="389.3" stroke="#222" stroke-width="0.9"/>
<line x1="72.5" y1="389.3" x2="76.9" y2="389.3" stroke="#222" stroke-width="0.9"/>
<path d="M72.5 386.7L75.1 391.4L69.9 391.4Z" fill="#222"/>
<path d="M74.7 388.8L77.3 393.5L72.1 393.5Z" fill="#222"/>
<path d="M76.9 391.2L79.5 395.9L74.3 395.9Z" fill="#222"/>
<path d="M86.9 447.7V412.9H94.3V447.7" fill="none" stroke="#9fb3d8" stroke-width="1.4"/>
<line x1="90.6" y1="415.7" x2="90.6" y2="405.3" stroke="#3b5b9c" stroke-width="0.9"/>
<line x1="88.4" y1="405.3" x2="92.8" y2="405.3" stroke="#3b5b9c" stroke-width="0.9"/>
<circle cx="90.6" cy="405.3" r="2.05" fill="#3b5b9c"/>
<circle cx="91.9" cy="414.0" r="2.05" fill="#3b5b9c"/>
<circle cx="90.6" cy="415.7" r="2.05" fill="#3b5b9c"/>
<path d="M95.3 447.7V388.6H102.8V447.7" fill="none" stroke="#d9434e" stroke-width="1.1"/>
<line x1="99.0" y1="393.5" x2="99.0" y2="381.6" stroke="#d12c38" stroke-width="0.9"/>
<line x1="96.8" y1="381.6" x2="101.2" y2="381.6" stroke="#d12c38" stroke-width="0.9"/>
<rect x="97.0" y="379.6" width="4.1" height="4.1" fill="#d12c38"/>
<rect x="98.3" y="389.3" width="4.1" height="4.1" fill="#d12c38"/>
<rect x="97.0" y="391.4" width="4.1" height="4.1" fill="#d12c38"/>
<path d="M103.7 447.7V436.6H111.2V447.7" fill="none" stroke="#444" stroke-width="1.1"/>
<line x1="107.5" y1="440.7" x2="107.5" y2="433.8" stroke="#222" stroke-width="0.9"/>
<line x1="105.2" y1="433.8" x2="109.7" y2="433.8" stroke="#222" stroke-width="0.9"/>
<path d="M107.5 431.2L110.0 435.9L104.9 435.9Z" fill="#222"/>
<path d="M108.8 434.7L111.4 439.4L106.2 439.4Z" fill="#222"/>
<path d="M107.5 438.2L110.0 442.8L104.9 442.8Z" fill="#222"/>
<path d="M119.4 447.7V412.9H126.8V447.7" fill="none" stroke="#9fb3d8" stroke-width="1.4"/>
<line x1="123.1" y1="415.7" x2="123.1" y2="408.8" stroke="#3b5b9c" stroke-width="0.9"/>
<line x1="120.9" y1="408.8" x2="125.3" y2="408.8" stroke="#3b5b9c" stroke-width="0.9"/>
<circle cx="123.1" cy="408.8" r="2.05" fill="#3b5b9c"/>
<circle cx="124.4" cy="412.9" r="2.05" fill="#3b5b9c"/>
<circle cx="123.1" cy="415.7" r="2.05" fill="#3b5b9c"/>
<path d="M128.0 447.7V397.3H135.5V447.7" fill="none" stroke="#d9434e" stroke-width="1.1"/>
<line x1="131.8" y1="399.7" x2="131.8" y2="395.9" stroke="#d12c38" stroke-width="0.9"/>
<line x1="129.6" y1="395.9" x2="133.9" y2="395.9" stroke="#d12c38" stroke-width="0.9"/>
<rect x="127.5" y="393.8" width="4.1" height="4.1" fill="#d12c38"/>
<rect x="129.7" y="395.2" width="4.1" height="4.1" fill="#d12c38"/>
<rect x="131.9" y="397.7" width="4.1" height="4.1" fill="#d12c38"/>
<path d="M136.5 447.7V425.1H144.0V447.7" fill="none" stroke="#444" stroke-width="1.1"/>
<line x1="140.2" y1="432.1" x2="140.2" y2="419.9" stroke="#222" stroke-width="0.9"/>
<line x1="138.1" y1="419.9" x2="142.4" y2="419.9" stroke="#222" stroke-width="0.9"/>
<path d="M140.2 417.3L142.8 422.0L137.7 422.0Z" fill="#222"/>
<path d="M141.6 423.6L144.2 428.2L139.0 428.2Z" fill="#222"/>
<path d="M140.2 429.5L142.8 434.1L137.7 434.1Z" fill="#222"/>
<path d="M152.3 447.7V412.9H159.8V447.7" fill="none" stroke="#9fb3d8" stroke-width="1.4"/>
<line x1="156.1" y1="415.4" x2="156.1" y2="406.7" stroke="#3b5b9c" stroke-width="0.9"/>
<line x1="153.9" y1="406.7" x2="158.2" y2="406.7" stroke="#3b5b9c" stroke-width="0.9"/>
<circle cx="156.1" cy="406.7" r="2.05" fill="#3b5b9c"/>
<circle cx="157.4" cy="412.9" r="2.05" fill="#3b5b9c"/>
<circle cx="156.1" cy="415.4" r="2.05" fill="#3b5b9c"/>
<path d="M161.1 447.7V360.1H168.9V447.7" fill="none" stroke="#d9434e" stroke-width="1.1"/>
<line x1="165.0" y1="362.5" x2="165.0" y2="355.6" stroke="#d12c38" stroke-width="0.9"/>
<line x1="162.8" y1="355.6" x2="167.2" y2="355.6" stroke="#d12c38" stroke-width="0.9"/>
<rect x="160.6" y="353.5" width="4.1" height="4.1" fill="#d12c38"/>
<rect x="162.9" y="358.7" width="4.1" height="4.1" fill="#d12c38"/>
<rect x="165.3" y="360.5" width="4.1" height="4.1" fill="#d12c38"/>
<path d="M169.4 447.7V428.9H176.9V447.7" fill="none" stroke="#444" stroke-width="1.1"/>
<line x1="173.2" y1="431.0" x2="173.2" y2="426.8" stroke="#222" stroke-width="0.9"/>
<line x1="171.0" y1="426.8" x2="175.3" y2="426.8" stroke="#222" stroke-width="0.9"/>
<path d="M173.2 424.3L175.7 428.9L170.6 428.9Z" fill="#222"/>
<path d="M174.5 427.0L177.1 431.7L171.9 431.7Z" fill="#222"/>
<path d="M173.2 428.4L175.7 433.1L170.6 433.1Z" fill="#222"/>
<line x1="52.1" y1="397.3" x2="62.8" y2="397.3" stroke="#4a4a4a" stroke-width="0.9"/>
<text x="57.7" y="397.4" font-size="7.0" font-weight="bold" text-anchor="middle" fill="#222" letter-spacing="0.4">*</text>
<line x1="66.5" y1="386.4" x2="77.0" y2="386.4" stroke="#4a4a4a" stroke-width="0.9"/>
<text x="72.0" y="386.5" font-size="7.0" font-weight="bold" text-anchor="middle" fill="#222" letter-spacing="0.4">***</text>
<line x1="86.9" y1="379.4" x2="98.0" y2="379.4" stroke="#4a4a4a" stroke-width="0.9"/>
<text x="92.7" y="379.5" font-size="7.0" font-weight="bold" text-anchor="middle" fill="#222" letter-spacing="0.4">*</text>
<line x1="99.3" y1="379.4" x2="109.2" y2="379.4" stroke="#4a4a4a" stroke-width="0.9"/>
<text x="104.5" y="379.5" font-size="7.0" font-weight="bold" text-anchor="middle" fill="#222" letter-spacing="0.4">***</text>
<line x1="121.1" y1="392.6" x2="130.8" y2="392.6" stroke="#4a4a4a" stroke-width="0.9"/>
<text x="126.2" y="392.7" font-size="7.0" font-weight="bold" text-anchor="middle" fill="#222" letter-spacing="0.4">**</text>
<line x1="134.0" y1="392.6" x2="143.2" y2="392.6" stroke="#4a4a4a" stroke-width="0.9"/>
<text x="138.8" y="392.7" font-size="7.0" font-weight="bold" text-anchor="middle" fill="#222" letter-spacing="0.4">**</text>
<line x1="155.6" y1="351.2" x2="165.0" y2="351.2" stroke="#4a4a4a" stroke-width="0.9"/>
<text x="160.5" y="351.3" font-size="7.0" font-weight="bold" text-anchor="middle" fill="#222" letter-spacing="0.4">***</text>
<line x1="165.3" y1="351.2" x2="176.9" y2="351.2" stroke="#4a4a4a" stroke-width="0.9"/>
<text x="171.1" y="351.2" font-size="6.3" font-weight="bold" text-anchor="middle" fill="#222">****</text>
<text transform="translate(69.2,457.7) rotate(-45)" font-size="7.95" font-weight="bold" text-anchor="end" fill="#1a1a1a">E-Cadherin</text>
<text transform="translate(102.1,457.7) rotate(-45)" font-size="7.95" font-weight="bold" text-anchor="end" fill="#1a1a1a">N-Cadherin</text>
<text transform="translate(134.7,457.7) rotate(-45)" font-size="7.95" font-weight="bold" text-anchor="end" fill="#1a1a1a">Vimentin</text>
<text transform="translate(167.6,457.7) rotate(-45)" font-size="7.95" font-weight="bold" text-anchor="end" fill="#1a1a1a">Snail</text>
<text x="270.7" y="314.0" font-size="10.1" font-weight="bold" text-anchor="middle">OS-RC-2</text>
<circle cx="239.3" cy="320.8" r="2.1" fill="#3b5b9c"/>
<text x="250.4" y="323.5" font-size="7.5" fill="#222" stroke="#222" stroke-width="0.22">V2</text>
<rect x="237.2" y="327.4" width="4.2" height="4.2" fill="#d12c38"/>
<text x="250.4" y="332.2" font-size="7.5" fill="#222" stroke="#222" stroke-width="0.22">Hypoxia</text>
<path d="M239.3 335.6L241.9 340.3L236.7 340.3Z" fill="#222"/>
<text x="250.4" y="340.9" font-size="7.5" fill="#222" stroke="#222" stroke-width="0.22">Hypoxia-DCLK1-L-KO</text>
<text transform="translate(193.7,394.3) rotate(-90)" y="3.13" font-size="8.7" font-weight="bold" text-anchor="middle">Relative mRNA expression</text>
<line x1="215.2" y1="342.9" x2="215.2" y2="447.6" stroke="#333" stroke-width="1.1"/>
<line x1="212.7" y1="447.0" x2="215.2" y2="447.0" stroke="#333" stroke-width="1.1"/>
<text x="211.2" y="449.6" font-size="7.3" font-weight="bold" text-anchor="end">0.0</text>
<line x1="212.7" y1="426.3" x2="215.2" y2="426.3" stroke="#333" stroke-width="1.1"/>
<text x="211.2" y="428.9" font-size="7.3" font-weight="bold" text-anchor="end">0.5</text>
<line x1="212.7" y1="405.6" x2="215.2" y2="405.6" stroke="#333" stroke-width="1.1"/>
<text x="211.2" y="408.2" font-size="7.3" font-weight="bold" text-anchor="end">1.0</text>
<line x1="212.7" y1="384.9" x2="215.2" y2="384.9" stroke="#333" stroke-width="1.1"/>
<text x="211.2" y="387.5" font-size="7.3" font-weight="bold" text-anchor="end">1.5</text>
<line x1="212.7" y1="364.2" x2="215.2" y2="364.2" stroke="#333" stroke-width="1.1"/>
<text x="211.2" y="366.8" font-size="7.3" font-weight="bold" text-anchor="end">2.0</text>
<line x1="212.7" y1="343.5" x2="215.2" y2="343.5" stroke="#333" stroke-width="1.1"/>
<text x="211.2" y="346.1" font-size="7.3" font-weight="bold" text-anchor="end">2.5</text>
<line x1="215.2" y1="447.0" x2="355.0" y2="447.0" stroke="#333" stroke-width="1.2"/>
<line x1="234.6" y1="447.0" x2="234.6" y2="449.5" stroke="#333" stroke-width="1.2"/>
<line x1="268.1" y1="447.0" x2="268.1" y2="449.5" stroke="#333" stroke-width="1.2"/>
<line x1="302.1" y1="447.0" x2="302.1" y2="449.5" stroke="#333" stroke-width="1.2"/>
<line x1="336.2" y1="447.0" x2="336.2" y2="449.5" stroke="#333" stroke-width="1.2"/>
<path d="M221.6 447.0V405.6H230.4V447.0" fill="none" stroke="#9fb3d8" stroke-width="1.4"/>
<line x1="226.0" y1="407.7" x2="226.0" y2="399.4" stroke="#3b5b9c" stroke-width="0.9"/>
<line x1="223.8" y1="399.4" x2="228.2" y2="399.4" stroke="#3b5b9c" stroke-width="0.9"/>
<circle cx="226.0" cy="399.4" r="2.05" fill="#3b5b9c"/>
<circle cx="227.6" cy="406.4" r="2.05" fill="#3b5b9c"/>
<circle cx="226.0" cy="407.7" r="2.05" fill="#3b5b9c"/>
<path d="M231.3 447.0V420.1H239.3V447.0" fill="none" stroke="#d9434e" stroke-width="1.1"/>
<line x1="235.3" y1="423.0" x2="235.3" y2="417.2" stroke="#d12c38" stroke-width="0.9"/>
<line x1="233.1" y1="417.2" x2="237.5" y2="417.2" stroke="#d12c38" stroke-width="0.9"/>
<rect x="233.2" y="415.1" width="4.1" height="4.1" fill="#d12c38"/>
<rect x="234.7" y="418.0" width="4.1" height="4.1" fill="#d12c38"/>
<rect x="233.2" y="420.9" width="4.1" height="4.1" fill="#d12c38"/>
<path d="M239.5 447.0V379.9H247.6V447.0" fill="none" stroke="#444" stroke-width="1.1"/>
<line x1="243.6" y1="391.1" x2="243.6" y2="364.2" stroke="#222" stroke-width="0.9"/>
<line x1="241.4" y1="364.2" x2="245.8" y2="364.2" stroke="#222" stroke-width="0.9"/>
<path d="M243.6 361.6L246.1 366.3L241.0 366.3Z" fill="#222"/>
<path d="M245.0 382.3L247.6 387.0L242.4 387.0Z" fill="#222"/>
<path d="M243.6 388.5L246.1 393.2L241.0 393.2Z" fill="#222"/>
<path d="M255.4 447.0V404.8H263.7V447.0" fill="none" stroke="#9fb3d8" stroke-width="1.4"/>
<line x1="259.6" y1="415.9" x2="259.6" y2="394.4" stroke="#3b5b9c" stroke-width="0.9"/>
<line x1="257.4" y1="394.4" x2="261.8" y2="394.4" stroke="#3b5b9c" stroke-width="0.9"/>
<circle cx="259.6" cy="394.4" r="2.05" fill="#3b5b9c"/>
<circle cx="261.0" cy="399.4" r="2.05" fill="#3b5b9c"/>
<circle cx="259.6" cy="415.9" r="2.05" fill="#3b5b9c"/>
<path d="M264.3 447.0V368.3H272.6V447.0" fill="none" stroke="#d9434e" stroke-width="1.1"/>
<line x1="268.5" y1="376.6" x2="268.5" y2="360.1" stroke="#d12c38" stroke-width="0.9"/>
<line x1="266.3" y1="360.1" x2="270.7" y2="360.1" stroke="#d12c38" stroke-width="0.9"/>
<rect x="266.4" y="358.0" width="4.1" height="4.1" fill="#d12c38"/>
<rect x="267.9" y="364.2" width="4.1" height="4.1" fill="#d12c38"/>
<rect x="266.4" y="374.6" width="4.1" height="4.1" fill="#d12c38"/>
<path d="M273.7 447.0V391.9H280.9V447.0" fill="none" stroke="#444" stroke-width="1.1"/>
<line x1="277.3" y1="392.4" x2="277.3" y2="391.1" stroke="#222" stroke-width="0.9"/>
<line x1="275.1" y1="391.1" x2="279.5" y2="391.1" stroke="#222" stroke-width="0.9"/>
<path d="M275.1 388.5L277.7 393.2L272.6 393.2Z" fill="#222"/>
<path d="M277.3 389.4L279.9 394.0L274.7 394.0Z" fill="#222"/>
<path d="M279.5 389.8L282.0 394.4L276.9 394.4Z" fill="#222"/>
<path d="M289.3 447.0V405.6H297.4V447.0" fill="none" stroke="#9fb3d8" stroke-width="1.4"/>
<line x1="293.4" y1="407.7" x2="293.4" y2="400.6" stroke="#3b5b9c" stroke-width="0.9"/>
<line x1="291.2" y1="400.6" x2="295.6" y2="400.6" stroke="#3b5b9c" stroke-width="0.9"/>
<circle cx="293.4" cy="400.6" r="2.05" fill="#3b5b9c"/>
<circle cx="294.8" cy="406.4" r="2.05" fill="#3b5b9c"/>
<circle cx="293.4" cy="407.7" r="2.05" fill="#3b5b9c"/>
<path d="M298.3 447.0V385.7H305.6V447.0" fill="none" stroke="#d9434e" stroke-width="1.1"/>
<line x1="302.0" y1="386.1" x2="302.0" y2="385.3" stroke="#d12c38" stroke-width="0.9"/>
<line x1="299.8" y1="385.3" x2="304.2" y2="385.3" stroke="#d12c38" stroke-width="0.9"/>
<rect x="297.7" y="383.3" width="4.1" height="4.1" fill="#d12c38"/>
<rect x="299.9" y="383.7" width="4.1" height="4.1" fill="#d12c38"/>
<rect x="302.1" y="384.1" width="4.1" height="4.1" fill="#d12c38"/>
<path d="M307.2 447.0V426.3H314.8V447.0" fill="none" stroke="#444" stroke-width="1.1"/>
<line x1="311.0" y1="429.6" x2="311.0" y2="421.3" stroke="#222" stroke-width="0.9"/>
<line x1="308.8" y1="421.3" x2="313.2" y2="421.3" stroke="#222" stroke-width="0.9"/>
<path d="M311.0 418.7L313.6 423.4L308.4 423.4Z" fill="#222"/>
<path d="M312.4 423.7L315.0 428.4L309.8 428.4Z" fill="#222"/>
<path d="M311.0 427.0L313.6 431.7L308.4 431.7Z" fill="#222"/>
<path d="M323.6 447.0V405.6H331.2V447.0" fill="none" stroke="#9fb3d8" stroke-width="1.4"/>
<line x1="327.4" y1="407.7" x2="327.4" y2="400.6" stroke="#3b5b9c" stroke-width="0.9"/>
<line x1="325.2" y1="400.6" x2="329.6" y2="400.6" stroke="#3b5b9c" stroke-width="0.9"/>
<circle cx="327.4" cy="400.6" r="2.05" fill="#3b5b9c"/>
<circle cx="328.8" cy="406.4" r="2.05" fill="#3b5b9c"/>
<circle cx="327.4" cy="407.7" r="2.05" fill="#3b5b9c"/>
<path d="M332.4 447.0V376.6H339.8V447.0" fill="none" stroke="#d9434e" stroke-width="1.1"/>
<line x1="336.1" y1="379.9" x2="336.1" y2="375.8" stroke="#d12c38" stroke-width="0.9"/>
<line x1="333.9" y1="375.8" x2="338.3" y2="375.8" stroke="#d12c38" stroke-width="0.9"/>
<rect x="331.8" y="373.7" width="4.1" height="4.1" fill="#d12c38"/>
<rect x="334.1" y="374.6" width="4.1" height="4.1" fill="#d12c38"/>
<rect x="336.3" y="377.9" width="4.1" height="4.1" fill="#d12c38"/>
<path d="M341.3 447.0V389.0H348.8V447.0" fill="none" stroke="#444" stroke-width="1.1"/>
<line x1="345.1" y1="391.1" x2="345.1" y2="388.2" stroke="#222" stroke-width="0.9"/>
<line x1="342.9" y1="388.2" x2="347.2" y2="388.2" stroke="#222" stroke-width="0.9"/>
<path d="M342.8 385.6L345.4 390.3L340.2 390.3Z" fill="#222"/>
<path d="M345.1 386.5L347.6 391.1L342.5 391.1Z" fill="#222"/>
<path d="M347.3 388.5L349.9 393.2L344.7 393.2Z" fill="#222"/>
<line x1="221.6" y1="397.1" x2="231.8" y2="397.1" stroke="#4a4a4a" stroke-width="0.9"/>
<text x="226.9" y="397.2" font-size="7.0" font-weight="bold" text-anchor="middle" fill="#222" letter-spacing="0.4">*</text>
<line x1="232.7" y1="360.5" x2="245.7" y2="360.5" stroke="#4a4a4a" stroke-width="0.9"/>
<text x="239.4" y="360.6" font-size="7.0" font-weight="bold" text-anchor="middle" fill="#222" letter-spacing="0.4">*</text>
<line x1="253.2" y1="355.5" x2="263.7" y2="355.5" stroke="#4a4a4a" stroke-width="0.9"/>
<text x="258.6" y="355.6" font-size="7.0" font-weight="bold" text-anchor="middle" fill="#222" letter-spacing="0.4">**</text>
<line x1="264.3" y1="351.3" x2="273.4" y2="351.3" stroke="#4a4a4a" stroke-width="0.9"/>
<text x="269.1" y="351.4" font-size="7.0" font-weight="bold" text-anchor="middle" fill="#222" letter-spacing="0.4">**</text>
<line x1="284.1" y1="380.6" x2="293.5" y2="380.6" stroke="#4a4a4a" stroke-width="0.9"/>
<text x="289.0" y="380.7" font-size="7.0" font-weight="bold" text-anchor="middle" fill="#222" letter-spacing="0.4">**</text>
<line x1="293.2" y1="374.4" x2="303.3" y2="374.4" stroke="#4a4a4a" stroke-width="0.9"/>
<text x="298.2" y="374.4" font-size="6.3" font-weight="bold" text-anchor="middle" fill="#222">****</text>
<line x1="316.9" y1="371.3" x2="326.7" y2="371.3" stroke="#4a4a4a" stroke-width="0.9"/>
<text x="322.0" y="371.4" font-size="7.0" font-weight="bold" text-anchor="middle" fill="#222" letter-spacing="0.4">***</text>
<line x1="325.7" y1="365.8" x2="335.9" y2="365.8" stroke="#4a4a4a" stroke-width="0.9"/>
<text x="331.0" y="365.9" font-size="7.0" font-weight="bold" text-anchor="middle" fill="#222" letter-spacing="0.4">**</text>
<text transform="translate(237.2,457.0) rotate(-45)" font-size="7.9" font-weight="bold" text-anchor="end" fill="#1a1a1a">ZO1</text>
<text transform="translate(270.8,457.0) rotate(-45)" font-size="7.9" font-weight="bold" text-anchor="end" fill="#1a1a1a">ZEB1</text>
<text transform="translate(304.7,457.0) rotate(-45)" font-size="7.9" font-weight="bold" text-anchor="end" fill="#1a1a1a">N-Cadherin</text>
<text transform="translate(338.8,457.0) rotate(-45)" font-size="7.9" font-weight="bold" text-anchor="end" fill="#1a1a1a">Slug</text>
<text x="443.7" y="555.6" font-size="11.3" font-weight="bold" text-anchor="middle">786-O</text>
<circle cx="413.0" cy="563.6" r="2.4" fill="#3b5b9c"/>
<text x="426.7" y="566.8" font-size="8.9" fill="#222" stroke="#222" stroke-width="0.22">V2</text>
<rect x="410.6" y="572.0" width="4.8" height="4.8" fill="#d12c38"/>
<text x="426.7" y="577.6" font-size="8.9" fill="#222" stroke="#222" stroke-width="0.22">Hypoxia</text>
<path d="M413.0 582.2L416.0 587.6L410.0 587.6Z" fill="#222"/>
<text x="426.7" y="588.4" font-size="8.9" fill="#222" stroke="#222" stroke-width="0.22">Hypoxia-DCLK1-L-KO</text>
<text transform="translate(372.8,647.8) rotate(-90)" y="3.28" font-size="9.1" font-weight="bold" text-anchor="middle">Relative mRNA expression</text>
<line x1="389.9" y1="593.3" x2="389.9" y2="703.6" stroke="#333" stroke-width="1.1"/>
<line x1="387.4" y1="703.1" x2="389.9" y2="703.1" stroke="#333" stroke-width="1.1"/>
<text x="385.9" y="706.0" font-size="8.0" font-weight="bold" text-anchor="end">0</text>
<line x1="387.4" y1="666.7" x2="389.9" y2="666.7" stroke="#333" stroke-width="1.1"/>
<text x="385.9" y="669.6" font-size="8.0" font-weight="bold" text-anchor="end">1</text>
<line x1="387.4" y1="630.2" x2="389.9" y2="630.2" stroke="#333" stroke-width="1.1"/>
<text x="385.9" y="633.1" font-size="8.0" font-weight="bold" text-anchor="end">2</text>
<line x1="387.4" y1="593.8" x2="389.9" y2="593.8" stroke="#333" stroke-width="1.1"/>
<text x="385.9" y="596.7" font-size="8.0" font-weight="bold" text-anchor="end">3</text>
<line x1="389.9" y1="703.1" x2="520.0" y2="703.1" stroke="#333" stroke-width="1.2"/>
<line x1="413.3" y1="703.1" x2="413.3" y2="705.6" stroke="#333" stroke-width="1.2"/>
<line x1="456.0" y1="703.1" x2="456.0" y2="705.6" stroke="#333" stroke-width="1.2"/>
<line x1="498.3" y1="703.1" x2="498.3" y2="705.6" stroke="#333" stroke-width="1.2"/>
<path d="M397.3 703.1V666.7H407.5V703.1" fill="none" stroke="#9fb3d8" stroke-width="1.4"/>
<line x1="402.4" y1="669.6" x2="402.4" y2="663.0" stroke="#3b5b9c" stroke-width="0.9"/>
<line x1="400.2" y1="663.0" x2="404.6" y2="663.0" stroke="#3b5b9c" stroke-width="0.9"/>
<circle cx="402.4" cy="663.0" r="2.3" fill="#3b5b9c"/>
<circle cx="404.2" cy="667.4" r="2.3" fill="#3b5b9c"/>
<circle cx="402.4" cy="669.6" r="2.3" fill="#3b5b9c"/>
<path d="M408.8 703.1V615.7H418.3V703.1" fill="none" stroke="#d9434e" stroke-width="1.1"/>
<line x1="413.6" y1="617.5" x2="413.6" y2="612.0" stroke="#d12c38" stroke-width="0.9"/>
<line x1="411.4" y1="612.0" x2="415.8" y2="612.0" stroke="#d12c38" stroke-width="0.9"/>
<rect x="408.4" y="609.7" width="4.6" height="4.6" fill="#d12c38"/>
<rect x="411.2" y="613.4" width="4.6" height="4.6" fill="#d12c38"/>
<rect x="414.1" y="615.2" width="4.6" height="4.6" fill="#d12c38"/>
<path d="M419.6 703.1V683.1H429.3V703.1" fill="none" stroke="#444" stroke-width="1.1"/>
<line x1="424.5" y1="683.8" x2="424.5" y2="682.3" stroke="#222" stroke-width="0.9"/>
<line x1="422.3" y1="682.3" x2="426.7" y2="682.3" stroke="#222" stroke-width="0.9"/>
<path d="M421.5 679.4L424.4 684.7L418.6 684.7Z" fill="#222"/>
<path d="M424.5 680.2L427.3 685.4L421.6 685.4Z" fill="#222"/>
<path d="M427.4 680.9L430.3 686.1L424.5 686.1Z" fill="#222"/>
<path d="M440.6 703.1V666.7H449.8V703.1" fill="none" stroke="#9fb3d8" stroke-width="1.4"/>
<line x1="445.2" y1="667.4" x2="445.2" y2="665.9" stroke="#3b5b9c" stroke-width="0.9"/>
<line x1="443.0" y1="665.9" x2="447.4" y2="665.9" stroke="#3b5b9c" stroke-width="0.9"/>
<circle cx="442.4" cy="665.9" r="2.3" fill="#3b5b9c"/>
<circle cx="445.2" cy="666.7" r="2.3" fill="#3b5b9c"/>
<circle cx="448.0" cy="667.4" r="2.3" fill="#3b5b9c"/>
<path d="M451.1 703.1V649.2H460.9V703.1" fill="none" stroke="#d9434e" stroke-width="1.1"/>
<line x1="456.0" y1="657.6" x2="456.0" y2="633.2" stroke="#d12c38" stroke-width="0.9"/>
<line x1="453.8" y1="633.2" x2="458.2" y2="633.2" stroke="#d12c38" stroke-width="0.9"/>
<rect x="453.7" y="630.9" width="4.6" height="4.6" fill="#d12c38"/>
<rect x="455.5" y="654.2" width="4.6" height="4.6" fill="#d12c38"/>
<rect x="453.7" y="655.3" width="4.6" height="4.6" fill="#d12c38"/>
<path d="M462.2 703.1V675.8H471.4V703.1" fill="none" stroke="#444" stroke-width="1.1"/>
<line x1="466.8" y1="684.2" x2="466.8" y2="667.4" stroke="#222" stroke-width="0.9"/>
<line x1="464.6" y1="667.4" x2="469.0" y2="667.4" stroke="#222" stroke-width="0.9"/>
<path d="M466.8 664.5L469.7 669.7L463.9 669.7Z" fill="#222"/>
<path d="M468.5 674.0L471.4 679.2L465.6 679.2Z" fill="#222"/>
<path d="M466.8 681.3L469.7 686.5L463.9 686.5Z" fill="#222"/>
<path d="M482.7 703.1V666.7H492.4V703.1" fill="none" stroke="#9fb3d8" stroke-width="1.4"/>
<line x1="487.5" y1="671.0" x2="487.5" y2="659.4" stroke="#3b5b9c" stroke-width="0.9"/>
<line x1="485.3" y1="659.4" x2="489.7" y2="659.4" stroke="#3b5b9c" stroke-width="0.9"/>
<circle cx="487.5" cy="659.4" r="2.3" fill="#3b5b9c"/>
<circle cx="489.3" cy="671.0" r="2.3" fill="#3b5b9c"/>
<circle cx="487.5" cy="669.6" r="2.3" fill="#3b5b9c"/>
<path d="M493.7 703.1V650.3H503.4V703.1" fill="none" stroke="#d9434e" stroke-width="1.1"/>
<line x1="498.5" y1="651.0" x2="498.5" y2="649.2" stroke="#d12c38" stroke-width="0.9"/>
<line x1="496.3" y1="649.2" x2="500.7" y2="649.2" stroke="#d12c38" stroke-width="0.9"/>
<rect x="493.3" y="646.9" width="4.6" height="4.6" fill="#d12c38"/>
<rect x="496.2" y="648.0" width="4.6" height="4.6" fill="#d12c38"/>
<rect x="499.2" y="648.7" width="4.6" height="4.6" fill="#d12c38"/>
<path d="M504.7 703.1V686.7H513.9V703.1" fill="none" stroke="#444" stroke-width="1.1"/>
<line x1="509.3" y1="687.4" x2="509.3" y2="685.6" stroke="#222" stroke-width="0.9"/>
<line x1="507.1" y1="685.6" x2="511.5" y2="685.6" stroke="#222" stroke-width="0.9"/>
<path d="M506.5 682.7L509.4 688.0L503.6 688.0Z" fill="#222"/>
<path d="M509.3 683.8L512.2 689.1L506.4 689.1Z" fill="#222"/>
<path d="M512.1 684.5L515.0 689.8L509.2 689.8Z" fill="#222"/>
<line x1="397.3" y1="609.0" x2="409.6" y2="609.0" stroke="#4a4a4a" stroke-width="0.9"/>
<text x="403.5" y="609.0" font-size="6.3" font-weight="bold" text-anchor="middle" fill="#222">****</text>
<line x1="413.6" y1="609.0" x2="425.4" y2="609.0" stroke="#4a4a4a" stroke-width="0.9"/>
<text x="419.5" y="609.0" font-size="6.3" font-weight="bold" text-anchor="middle" fill="#222">****</text>
<line x1="441.7" y1="628.8" x2="454.8" y2="628.8" stroke="#4a4a4a" stroke-width="0.9"/>
<text x="448.4" y="628.9" font-size="7.0" font-weight="bold" text-anchor="middle" fill="#222" letter-spacing="0.4">**</text>
<line x1="457.0" y1="628.8" x2="470.0" y2="628.8" stroke="#4a4a4a" stroke-width="0.9"/>
<text x="463.7" y="628.9" font-size="7.0" font-weight="bold" text-anchor="middle" fill="#222" letter-spacing="0.4">**</text>
<line x1="485.8" y1="644.3" x2="500.3" y2="644.3" stroke="#4a4a4a" stroke-width="0.9"/>
<text x="493.2" y="644.4" font-size="7.0" font-weight="bold" text-anchor="middle" fill="#222" letter-spacing="0.4">*</text>
<line x1="500.3" y1="644.3" x2="514.0" y2="644.3" stroke="#4a4a4a" stroke-width="0.9"/>
<text x="507.1" y="644.3" font-size="6.3" font-weight="bold" text-anchor="middle" fill="#222">****</text>
<text transform="translate(416.2,713.9) rotate(-45)" font-size="8.2" font-weight="bold" text-anchor="end" fill="#1a1a1a">CD44</text>
<text transform="translate(458.9,713.9) rotate(-45)" font-size="8.2" font-weight="bold" text-anchor="end" fill="#1a1a1a">Nanog</text>
<text transform="translate(501.2,713.9) rotate(-45)" font-size="8.2" font-weight="bold" text-anchor="end" fill="#1a1a1a">Bmi-1</text>
<text x="613.2" y="555.5" font-size="11" font-weight="bold" text-anchor="middle">OS-RC-2</text>
<circle cx="579.5" cy="563.5" r="2.4" fill="#3b5b9c"/>
<text x="594.3" y="566.7" font-size="8.8" fill="#222" stroke="#222" stroke-width="0.22">V2</text>
<rect x="577.1" y="571.6" width="4.8" height="4.8" fill="#d12c38"/>
<text x="594.3" y="577.2" font-size="8.8" fill="#222" stroke="#222" stroke-width="0.22">Hypoxia</text>
<path d="M579.5 581.5L582.5 586.9L576.5 586.9Z" fill="#222"/>
<text x="594.3" y="587.7" font-size="8.8" fill="#222" stroke="#222" stroke-width="0.22">Hypoxia-DCLK1-L-KO</text>
<text transform="translate(534.2,647.0) rotate(-90)" y="3.28" font-size="9.1" font-weight="bold" text-anchor="middle">Relative mRNA expression</text>
<line x1="558.0" y1="594.0" x2="558.0" y2="703.5" stroke="#333" stroke-width="1.1"/>
<line x1="555.5" y1="703.0" x2="558.0" y2="703.0" stroke="#333" stroke-width="1.1"/>
<text x="554.0" y="705.8" font-size="7.8" font-weight="bold" text-anchor="end">0.0</text>
<line x1="555.5" y1="681.3" x2="558.0" y2="681.3" stroke="#333" stroke-width="1.1"/>
<text x="554.0" y="684.1" font-size="7.8" font-weight="bold" text-anchor="end">0.5</text>
<line x1="555.5" y1="659.6" x2="558.0" y2="659.6" stroke="#333" stroke-width="1.1"/>
<text x="554.0" y="662.4" font-size="7.8" font-weight="bold" text-anchor="end">1.0</text>
<line x1="555.5" y1="637.9" x2="558.0" y2="637.9" stroke="#333" stroke-width="1.1"/>
<text x="554.0" y="640.7" font-size="7.8" font-weight="bold" text-anchor="end">1.5</text>
<line x1="555.5" y1="616.2" x2="558.0" y2="616.2" stroke="#333" stroke-width="1.1"/>
<text x="554.0" y="619.0" font-size="7.8" font-weight="bold" text-anchor="end">2.0</text>
<line x1="555.5" y1="594.5" x2="558.0" y2="594.5" stroke="#333" stroke-width="1.1"/>
<text x="554.0" y="597.3" font-size="7.8" font-weight="bold" text-anchor="end">2.5</text>
<line x1="558.0" y1="703.0" x2="685.0" y2="703.0" stroke="#333" stroke-width="1.2"/>
<line x1="580.9" y1="703.0" x2="580.9" y2="705.5" stroke="#333" stroke-width="1.2"/>
<line x1="621.8" y1="703.0" x2="621.8" y2="705.5" stroke="#333" stroke-width="1.2"/>
<line x1="662.2" y1="703.0" x2="662.2" y2="705.5" stroke="#333" stroke-width="1.2"/>
<path d="M565.7 703.0V659.6H575.7V703.0" fill="none" stroke="#9fb3d8" stroke-width="1.4"/>
<line x1="570.7" y1="661.8" x2="570.7" y2="653.1" stroke="#3b5b9c" stroke-width="0.9"/>
<line x1="568.5" y1="653.1" x2="572.9" y2="653.1" stroke="#3b5b9c" stroke-width="0.9"/>
<circle cx="570.7" cy="653.1" r="2.3" fill="#3b5b9c"/>
<circle cx="572.5" cy="660.5" r="2.3" fill="#3b5b9c"/>
<circle cx="570.7" cy="661.8" r="2.3" fill="#3b5b9c"/>
<path d="M576.4 703.0V635.3H585.9V703.0" fill="none" stroke="#d9434e" stroke-width="1.1"/>
<line x1="581.1" y1="645.3" x2="581.1" y2="623.6" stroke="#d12c38" stroke-width="0.9"/>
<line x1="578.9" y1="623.6" x2="583.4" y2="623.6" stroke="#d12c38" stroke-width="0.9"/>
<rect x="578.9" y="621.3" width="4.6" height="4.6" fill="#d12c38"/>
<rect x="580.6" y="633.4" width="4.6" height="4.6" fill="#d12c38"/>
<rect x="578.9" y="643.0" width="4.6" height="4.6" fill="#d12c38"/>
<path d="M586.6 703.0V664.8H596.1V703.0" fill="none" stroke="#444" stroke-width="1.1"/>
<line x1="591.4" y1="671.8" x2="591.4" y2="663.1" stroke="#222" stroke-width="0.9"/>
<line x1="589.1" y1="663.1" x2="593.6" y2="663.1" stroke="#222" stroke-width="0.9"/>
<path d="M591.4 660.2L594.2 665.4L588.5 665.4Z" fill="#222"/>
<path d="M593.1 661.0L596.0 666.3L590.2 666.3Z" fill="#222"/>
<path d="M591.4 668.9L594.2 674.1L588.5 674.1Z" fill="#222"/>
<path d="M606.6 703.0V658.7H616.0V703.0" fill="none" stroke="#9fb3d8" stroke-width="1.4"/>
<line x1="611.3" y1="667.0" x2="611.3" y2="645.7" stroke="#3b5b9c" stroke-width="0.9"/>
<line x1="609.1" y1="645.7" x2="613.5" y2="645.7" stroke="#3b5b9c" stroke-width="0.9"/>
<circle cx="611.3" cy="645.7" r="2.3" fill="#3b5b9c"/>
<circle cx="613.0" cy="661.8" r="2.3" fill="#3b5b9c"/>
<circle cx="611.3" cy="667.0" r="2.3" fill="#3b5b9c"/>
<path d="M616.8 703.0V621.4H626.2V703.0" fill="none" stroke="#d9434e" stroke-width="1.1"/>
<line x1="621.5" y1="630.1" x2="621.5" y2="615.3" stroke="#d12c38" stroke-width="0.9"/>
<line x1="619.3" y1="615.3" x2="623.7" y2="615.3" stroke="#d12c38" stroke-width="0.9"/>
<rect x="619.2" y="613.0" width="4.6" height="4.6" fill="#d12c38"/>
<rect x="620.9" y="616.1" width="4.6" height="4.6" fill="#d12c38"/>
<rect x="619.2" y="627.8" width="4.6" height="4.6" fill="#d12c38"/>
<path d="M627.0 703.0V644.4H637.0V703.0" fill="none" stroke="#444" stroke-width="1.1"/>
<line x1="632.0" y1="646.6" x2="632.0" y2="643.1" stroke="#222" stroke-width="0.9"/>
<line x1="629.8" y1="643.1" x2="634.2" y2="643.1" stroke="#222" stroke-width="0.9"/>
<path d="M629.0 640.2L631.9 645.5L626.1 645.5Z" fill="#222"/>
<path d="M632.0 642.4L634.9 647.6L629.1 647.6Z" fill="#222"/>
<path d="M635.0 643.7L637.9 648.9L632.1 648.9Z" fill="#222"/>
<path d="M647.2 703.0V659.6H656.4V703.0" fill="none" stroke="#9fb3d8" stroke-width="1.4"/>
<line x1="651.8" y1="661.8" x2="651.8" y2="651.8" stroke="#3b5b9c" stroke-width="0.9"/>
<line x1="649.6" y1="651.8" x2="654.0" y2="651.8" stroke="#3b5b9c" stroke-width="0.9"/>
<circle cx="651.8" cy="651.8" r="2.3" fill="#3b5b9c"/>
<circle cx="653.5" cy="660.5" r="2.3" fill="#3b5b9c"/>
<circle cx="651.8" cy="661.8" r="2.3" fill="#3b5b9c"/>
<path d="M657.4 703.0V635.3H666.6V703.0" fill="none" stroke="#d9434e" stroke-width="1.1"/>
<line x1="662.0" y1="644.4" x2="662.0" y2="622.7" stroke="#d12c38" stroke-width="0.9"/>
<line x1="659.8" y1="622.7" x2="664.2" y2="622.7" stroke="#d12c38" stroke-width="0.9"/>
<rect x="659.7" y="620.4" width="4.6" height="4.6" fill="#d12c38"/>
<rect x="661.4" y="633.4" width="4.6" height="4.6" fill="#d12c38"/>
<rect x="659.7" y="642.1" width="4.6" height="4.6" fill="#d12c38"/>
<path d="M667.6 703.0V659.6H677.3V703.0" fill="none" stroke="#444" stroke-width="1.1"/>
<line x1="672.5" y1="660.5" x2="672.5" y2="658.7" stroke="#222" stroke-width="0.9"/>
<line x1="670.2" y1="658.7" x2="674.7" y2="658.7" stroke="#222" stroke-width="0.9"/>
<path d="M669.5 655.8L672.4 661.1L666.6 661.1Z" fill="#222"/>
<path d="M672.5 656.7L675.3 661.9L669.6 661.9Z" fill="#222"/>
<path d="M675.4 657.6L678.3 662.8L672.5 662.8Z" fill="#222"/>
<line x1="568.3" y1="618.0" x2="579.0" y2="618.0" stroke="#4a4a4a" stroke-width="0.9"/>
<text x="573.9" y="618.1" font-size="7.0" font-weight="bold" text-anchor="middle" fill="#222" letter-spacing="0.4">*</text>
<line x1="580.8" y1="612.9" x2="591.2" y2="612.9" stroke="#4a4a4a" stroke-width="0.9"/>
<text x="586.2" y="613.0" font-size="7.0" font-weight="bold" text-anchor="middle" fill="#222" letter-spacing="0.4">*</text>
<line x1="611.4" y1="609.5" x2="622.4" y2="609.5" stroke="#4a4a4a" stroke-width="0.9"/>
<text x="617.1" y="609.6" font-size="7.0" font-weight="bold" text-anchor="middle" fill="#222" letter-spacing="0.4">**</text>
<line x1="622.9" y1="603.7" x2="633.9" y2="603.7" stroke="#4a4a4a" stroke-width="0.9"/>
<text x="628.6" y="603.8" font-size="7.0" font-weight="bold" text-anchor="middle" fill="#222" letter-spacing="0.4">**</text>
<text transform="translate(583.8,713.8) rotate(-45)" font-size="8.2" font-weight="bold" text-anchor="end" fill="#1a1a1a">Oct4</text>
<text transform="translate(624.7,713.8) rotate(-45)" font-size="8.2" font-weight="bold" text-anchor="end" fill="#1a1a1a">Bmi-1</text>
<text transform="translate(665.1,713.8) rotate(-45)" font-size="8.2" font-weight="bold" text-anchor="end" fill="#1a1a1a">Sox2</text>
<line x1="653.0" y1="619.2" x2="662.0" y2="619.2" stroke="#444" stroke-width="0.9"/>
<text x="657.7" y="621.1" font-size="7" fill="#333" stroke="#333" stroke-width="0.22">Yes</text>
<line x1="664.6" y1="612.1" x2="669.5" y2="612.1" stroke="#444" stroke-width="0.9"/>
<text x="668.4" y="614.1" font-size="7" fill="#333" stroke="#333" stroke-width="0.22">Yes</text>
<text x="438.5" y="304.9" font-size="13" font-weight="bold" text-anchor="middle">786-O</text>
<text x="358.9" y="319.0" font-size="7.5" fill="#111" stroke="#111" stroke-width="0.22">DCLK1-L-KO</text>
<text x="367.0" y="329.7" font-size="8.0" fill="#111" stroke="#111" stroke-width="0.22">Hypoxia</text>
<rect x="413.1" y="313.9" width="3.5" height="1.4" fill="#111"/>
<rect x="413.1" y="328.6" width="3.5" height="1.4" fill="#111"/>
<rect x="438.1" y="313.9" width="3.5" height="1.4" fill="#111"/>
<text x="439.8" y="332.1" font-size="9" font-weight="bold" text-anchor="middle" fill="#111">+</text>
<text x="467.4" y="317.4" font-size="9" font-weight="bold" text-anchor="middle" fill="#111">+</text>
<text x="467.4" y="332.1" font-size="9" font-weight="bold" text-anchor="middle" fill="#111">+</text>
<rect x="404.6" y="336.2" width="69.2" height="17.5" fill="#fafafa"/>
<clipPath id="k15"><rect x="404.6" y="336.2" width="69.2" height="17.5"/></clipPath><g clip-path="url(#k15)">
<rect x="409.6" y="342.2" width="16.0" height="5.6" rx="3.4" fill="#111" fill-opacity="1.00" filter="url(#bl)"/>
<rect x="431.0" y="340.6" width="16.0" height="8.4" rx="5.0" fill="#111" fill-opacity="1.00" filter="url(#bl)"/>
</g>
<rect x="404.6" y="336.2" width="69.2" height="17.5" fill="none" stroke="#4a4a4a" stroke-width="1.1"/>
<text x="403.0" y="346.4" font-size="8.6" text-anchor="end" fill="#222" stroke="#222" stroke-width="0.22">isoform1</text>
<text x="474.5" y="346.6" font-size="8.6" fill="#222" stroke="#222" stroke-width="0.22">82KDa</text>
<rect x="404.6" y="358.3" width="69.2" height="17.3" fill="#fafafa"/>
<clipPath id="k16"><rect x="404.6" y="358.3" width="69.2" height="17.3"/></clipPath><g clip-path="url(#k16)">
<rect x="410.5" y="364.6" width="15.0" height="4.8" rx="2.9" fill="#111" fill-opacity="1.00" filter="url(#bl)"/>
<rect x="431.0" y="362.2" width="16.0" height="8.4" rx="5.0" fill="#111" fill-opacity="1.00" filter="url(#bl)"/>
<rect x="450.8" y="364.4" width="2.5" height="2.2" rx="1.2" fill="#111" fill-opacity="0.30" filter="url(#bl)"/>
</g>
<rect x="404.6" y="358.3" width="69.2" height="17.3" fill="none" stroke="#4a4a4a" stroke-width="1.1"/>
<text x="403.0" y="369.6" font-size="8.6" text-anchor="end" fill="#222" stroke="#222" stroke-width="0.22">isoform2</text>
<text x="474.5" y="369.6" font-size="8.6" fill="#222" stroke="#222" stroke-width="0.22">80KDa</text>
<rect x="404.6" y="380.2" width="69.2" height="17.5" fill="#f8f8f8"/>
<clipPath id="k17"><rect x="404.6" y="380.2" width="69.2" height="17.5"/></clipPath><g clip-path="url(#k17)">
<rect x="411.1" y="385.8" width="14.5" height="5.6" rx="3.4" fill="#111" fill-opacity="1.00" filter="url(#bl)"/>
<rect x="431.7" y="386.8" width="15.0" height="5.6" rx="3.4" fill="#111" fill-opacity="1.00" filter="url(#bl)"/>
<rect x="452.7" y="386.8" width="14.0" height="3.6" rx="2.2" fill="#111" fill-opacity="0.95" filter="url(#bl)"/>
</g>
<rect x="404.6" y="380.2" width="69.2" height="17.5" fill="none" stroke="#4a4a4a" stroke-width="1.1"/>
<text x="403.0" y="392.1" font-size="8.6" text-anchor="end" fill="#222" stroke="#222" stroke-width="0.22">isoform4</text>
<text x="474.5" y="392.1" font-size="8.6" fill="#222" stroke="#222" stroke-width="0.22">47KDa</text>
<rect x="404.6" y="402.3" width="69.2" height="17.0" fill="#f6f6f6"/>
<clipPath id="k18"><rect x="404.6" y="402.3" width="69.2" height="17.0"/></clipPath><g clip-path="url(#k18)">
<rect x="410.6" y="407.1" width="14.0" height="5.6" rx="3.4" fill="#111" fill-opacity="1.00" filter="url(#bl)"/>
<rect x="434.0" y="409.4" width="14.0" height="2.2" rx="1.3" fill="#111" fill-opacity="0.25" filter="url(#bl)"/>
<rect x="455.9" y="408.1" width="13.0" height="4.5" rx="2.7" fill="#111" fill-opacity="0.95" filter="url(#bl)"/>
</g>
<rect x="404.6" y="402.3" width="69.2" height="17.0" fill="none" stroke="#4a4a4a" stroke-width="1.1"/>
<text x="403.0" y="413.9" font-size="8.6" text-anchor="end" fill="#222" stroke="#222" stroke-width="0.22">E-cadherin</text>
<text x="474.5" y="413.9" font-size="8.6" fill="#222" stroke="#222" stroke-width="0.22">135KDa</text>
<rect x="404.6" y="424.3" width="69.2" height="17.1" fill="#fafafa"/>
<clipPath id="k19"><rect x="404.6" y="424.3" width="69.2" height="17.1"/></clipPath><g clip-path="url(#k19)">
<rect x="411.0" y="432.9" width="15.0" height="2.2" rx="1.3" fill="#111" fill-opacity="0.25" filter="url(#bl)"/>
<rect x="429.3" y="426.4" width="20.0" height="10.6" rx="6.4" fill="#111" fill-opacity="1.00" filter="url(#bl)"/>
<rect x="452.3" y="430.4" width="16.0" height="3.9" rx="2.4" fill="#111" fill-opacity="1.00" filter="url(#bl)"/>
</g>
<rect x="404.6" y="424.3" width="69.2" height="17.1" fill="none" stroke="#4a4a4a" stroke-width="1.1"/>
<text x="403.0" y="436.0" font-size="8.6" text-anchor="end" fill="#222" stroke="#222" stroke-width="0.22">N-cadherin</text>
<text x="474.5" y="436.5" font-size="8.6" fill="#222" stroke="#222" stroke-width="0.22">140KDa</text>
<rect x="404.6" y="446.3" width="69.2" height="17.5" fill="#f3f4f5"/>
<clipPath id="k20"><rect x="404.6" y="446.3" width="69.2" height="17.5"/></clipPath><g clip-path="url(#k20)">
<rect x="411.0" y="457.4" width="12.0" height="3.9" rx="2.4" fill="#111" fill-opacity="0.25" filter="url(#bl)"/>
<rect x="428.8" y="449.8" width="17.5" height="10.3" rx="6.2" fill="#111" fill-opacity="1.00" filter="url(#bl)"/>
</g>
<rect x="404.6" y="446.3" width="69.2" height="17.5" fill="none" stroke="#4a4a4a" stroke-width="1.1"/>
<text x="403.0" y="457.2" font-size="8.6" text-anchor="end" fill="#222" stroke="#222" stroke-width="0.22">Vimentin</text>
<text x="474.5" y="457.2" font-size="8.6" fill="#222" stroke="#222" stroke-width="0.22">57KDa</text>
<rect x="404.6" y="469.9" width="69.2" height="17.1" fill="#fafafa"/>
<clipPath id="k21"><rect x="404.6" y="469.9" width="69.2" height="17.1"/></clipPath><g clip-path="url(#k21)">
<rect x="410.6" y="475.9" width="14.0" height="3.4" rx="2.0" fill="#111" fill-opacity="0.20" filter="url(#bl)"/>
<rect x="432.7" y="475.1" width="14.0" height="4.5" rx="2.7" fill="#111" fill-opacity="1.00" filter="url(#bl)"/>
<rect x="452.5" y="474.8" width="16.0" height="4.5" rx="2.7" fill="#111" fill-opacity="0.95" filter="url(#bl)"/>
</g>
<rect x="404.6" y="469.9" width="69.2" height="17.1" fill="none" stroke="#4a4a4a" stroke-width="1.1"/>
<text x="403.0" y="478.9" font-size="8.6" text-anchor="end" fill="#222" stroke="#222" stroke-width="0.22">Snail</text>
<text x="474.5" y="478.9" font-size="8.6" fill="#222" stroke="#222" stroke-width="0.22">29KDa</text>
<rect x="404.6" y="490.4" width="69.2" height="17.1" fill="#fafafa"/>
<clipPath id="k22"><rect x="404.6" y="490.4" width="69.2" height="17.1"/></clipPath><g clip-path="url(#k22)">
<rect x="408.5" y="495.8" width="16.0" height="3.4" rx="2.0" fill="#111" fill-opacity="0.95" filter="url(#bl)"/>
<rect x="429.6" y="497.2" width="16.0" height="4.5" rx="2.7" fill="#111" fill-opacity="1.00" filter="url(#bl)"/>
<rect x="450.7" y="495.3" width="18.0" height="4.8" rx="2.9" fill="#111" fill-opacity="1.00" filter="url(#bl)"/>
</g>
<rect x="404.6" y="490.4" width="69.2" height="17.1" fill="none" stroke="#4a4a4a" stroke-width="1.1"/>
<text x="403.0" y="500.9" font-size="8.6" text-anchor="end" fill="#222" stroke="#222" stroke-width="0.22">β-actin</text>
<text x="474.5" y="501.1" font-size="8.6" fill="#222" stroke="#222" stroke-width="0.22">42KDa</text>
<text x="598.2" y="305.5" font-size="13" font-weight="bold" text-anchor="middle">OS-RC-2</text>
<text x="518.1" y="318.2" font-size="7.5" fill="#111" stroke="#111" stroke-width="0.22">DCLK1-L-KO</text>
<text x="526.5" y="330.2" font-size="8.0" fill="#111" stroke="#111" stroke-width="0.22">Hypoxia</text>
<rect x="575.5" y="313.9" width="3.5" height="1.4" fill="#111"/>
<rect x="575.5" y="329.1" width="3.5" height="1.4" fill="#111"/>
<rect x="601.8" y="313.9" width="3.5" height="1.4" fill="#111"/>
<text x="603.5" y="332.6" font-size="9" font-weight="bold" text-anchor="middle" fill="#111">+</text>
<text x="630.6" y="317.4" font-size="9" font-weight="bold" text-anchor="middle" fill="#111">+</text>
<text x="630.6" y="332.6" font-size="9" font-weight="bold" text-anchor="middle" fill="#111">+</text>
<rect x="561.5" y="337.2" width="79.3" height="19.7" fill="#f6f6f6"/>
<clipPath id="k23"><rect x="561.5" y="337.2" width="79.3" height="19.7"/></clipPath><g clip-path="url(#k23)">
<rect x="581.0" y="336.2" width="34.0" height="15.7" rx="9.4" fill="#111" fill-opacity="0.08" filter="url(#bl)"/>
<rect x="568.3" y="344.5" width="17.0" height="5.6" rx="3.4" fill="#111" fill-opacity="1.00" filter="url(#bl)"/>
<rect x="591.6" y="343.4" width="18.5" height="7.3" rx="4.4" fill="#111" fill-opacity="1.00" filter="url(#bl)"/>
</g>
<rect x="561.5" y="337.2" width="79.3" height="19.7" fill="none" stroke="#4a4a4a" stroke-width="1.1"/>
<text x="560.6" y="347.6" font-size="8.6" text-anchor="end" fill="#222" letter-spacing="0.35" stroke="#222" stroke-width="0.22">isoform1</text>
<text x="641.6" y="351.5" font-size="8.6" fill="#222" letter-spacing="0.35" stroke="#222" stroke-width="0.22">82KDa</text>
<rect x="561.5" y="361.3" width="79.3" height="21.0" fill="#f2f2f2"/>
<clipPath id="k24"><rect x="561.5" y="361.3" width="79.3" height="21.0"/></clipPath><g clip-path="url(#k24)">
<rect x="568.8" y="369.3" width="6.5" height="4.5" rx="2.7" fill="#111" fill-opacity="1.00" filter="url(#bl)"/>
<rect x="580.4" y="370.0" width="6.0" height="3.9" rx="2.4" fill="#111" fill-opacity="0.30" filter="url(#bl)"/>
<rect x="596.5" y="369.1" width="7.0" height="4.5" rx="2.7" fill="#111" fill-opacity="1.00" filter="url(#bl)"/>
<rect x="601.0" y="369.1" width="12.0" height="3.4" rx="2.0" fill="#111" fill-opacity="0.95" filter="url(#bl)"/>
<rect x="606.9" y="361.1" width="14.0" height="2.9" rx="1.7" fill="#111" fill-opacity="1.00" filter="url(#bl)"/>
</g>
<rect x="561.5" y="361.3" width="79.3" height="21.0" fill="none" stroke="#4a4a4a" stroke-width="1.1"/>
<text x="560.6" y="373.8" font-size="8.6" text-anchor="end" fill="#222" letter-spacing="0.35" stroke="#222" stroke-width="0.22">isoform2</text>
<text x="641.6" y="373.8" font-size="8.6" fill="#222" letter-spacing="0.35" stroke="#222" stroke-width="0.22">80KDa</text>
<rect x="561.5" y="386.3" width="79.3" height="20.1" fill="#fbfbfb"/>
<clipPath id="k25"><rect x="561.5" y="386.3" width="79.3" height="20.1"/></clipPath><g clip-path="url(#k25)">
<rect x="569.0" y="392.5" width="16.0" height="2.9" rx="1.7" fill="#111" fill-opacity="0.50" filter="url(#bl)"/>
<rect x="593.0" y="393.4" width="17.0" height="4.5" rx="2.7" fill="#111" fill-opacity="1.00" filter="url(#bl)"/>
<rect x="617.8" y="392.3" width="15.0" height="4.5" rx="2.7" fill="#111" fill-opacity="0.95" filter="url(#bl)"/>
</g>
<rect x="561.5" y="386.3" width="79.3" height="20.1" fill="none" stroke="#4a4a4a" stroke-width="1.1"/>
<text x="560.6" y="397.5" font-size="8.6" text-anchor="end" fill="#222" letter-spacing="0.35" stroke="#222" stroke-width="0.22">isoform4</text>
<text x="641.6" y="398.8" font-size="8.6" fill="#222" letter-spacing="0.35" stroke="#222" stroke-width="0.22">47KDa</text>
<rect x="561.5" y="410.5" width="79.3" height="21.0" fill="#f2f2f2"/>
<clipPath id="k26"><rect x="561.5" y="410.5" width="79.3" height="21.0"/></clipPath><g clip-path="url(#k26)">
<rect x="562.0" y="409.0" width="24.0" height="24.0" rx="3.0" fill="#111" fill-opacity="0.17" filter="url(#bl)"/>
<rect x="616.0" y="409.0" width="22.0" height="24.0" rx="3.0" fill="#111" fill-opacity="0.25" filter="url(#bl)"/>
<rect x="591.0" y="409.0" width="18.0" height="24.0" rx="1.0" fill="#111" fill-opacity="0.07" filter="url(#bl)"/>
<rect x="568.3" y="418.3" width="17.0" height="7.3" rx="4.4" fill="#111" fill-opacity="1.00" filter="url(#bl)"/>
<rect x="617.6" y="415.0" width="18.0" height="14.6" rx="8.7" fill="#111" fill-opacity="1.00" filter="url(#bl)"/>
</g>
<rect x="561.5" y="410.5" width="79.3" height="21.0" fill="none" stroke="#4a4a4a" stroke-width="1.1"/>
<text x="560.6" y="423.7" font-size="8.6" text-anchor="end" fill="#222" letter-spacing="0.35" stroke="#222" stroke-width="0.22">ZO1</text>
<text x="641.6" y="425.1" font-size="8.6" fill="#222" letter-spacing="0.35" stroke="#222" stroke-width="0.22">220KDa</text>
<rect x="561.5" y="435.7" width="79.3" height="19.7" fill="#fafafa"/>
<clipPath id="k27"><rect x="561.5" y="435.7" width="79.3" height="19.7"/></clipPath><g clip-path="url(#k27)">
<rect x="570.8" y="443.8" width="14.5" height="3.4" rx="2.0" fill="#111" fill-opacity="0.45" filter="url(#bl)"/>
<rect x="594.1" y="441.8" width="16.0" height="5.6" rx="3.4" fill="#111" fill-opacity="1.00" filter="url(#bl)"/>
<rect x="619.0" y="443.1" width="14.5" height="3.4" rx="2.0" fill="#111" fill-opacity="0.45" filter="url(#bl)"/>
</g>
<rect x="561.5" y="435.7" width="79.3" height="19.7" fill="none" stroke="#4a4a4a" stroke-width="1.1"/>
<text x="560.6" y="448.6" font-size="8.6" text-anchor="end" fill="#222" letter-spacing="0.35" stroke="#222" stroke-width="0.22">N-cadherin</text>
<text x="641.6" y="448.6" font-size="8.6" fill="#222" letter-spacing="0.35" stroke="#222" stroke-width="0.22">140KDa</text>
<rect x="561.5" y="460.5" width="79.3" height="20.0" fill="#fafafa"/>
<clipPath id="k28"><rect x="561.5" y="460.5" width="79.3" height="20.0"/></clipPath><g clip-path="url(#k28)">
<rect x="570.1" y="468.6" width="19.0" height="3.4" rx="2.0" fill="#111" fill-opacity="0.90" filter="url(#bl)"/>
<rect x="592.3" y="467.1" width="19.0" height="7.8" rx="4.7" fill="#111" fill-opacity="1.00" filter="url(#bl)"/>
<rect x="615.1" y="468.8" width="17.8" height="4.5" rx="2.7" fill="#111" fill-opacity="1.00" filter="url(#bl)"/>
</g>
<rect x="561.5" y="460.5" width="79.3" height="20.0" fill="none" stroke="#4a4a4a" stroke-width="1.1"/>
<text x="560.6" y="475.0" font-size="8.6" text-anchor="end" fill="#222" letter-spacing="0.35" stroke="#222" stroke-width="0.22">Vimentin</text>
<text x="641.6" y="473.6" font-size="8.6" fill="#222" letter-spacing="0.35" stroke="#222" stroke-width="0.22">57KDa</text>
<rect x="561.5" y="485.2" width="79.3" height="20.0" fill="#fafafa"/>
<clipPath id="k29"><rect x="561.5" y="485.2" width="79.3" height="20.0"/></clipPath><g clip-path="url(#k29)">
<rect x="566.9" y="492.0" width="19.0" height="5.6" rx="3.4" fill="#111" fill-opacity="1.00" filter="url(#bl)"/>
<rect x="591.2" y="492.0" width="20.0" height="5.6" rx="3.4" fill="#111" fill-opacity="1.00" filter="url(#bl)"/>
<rect x="615.8" y="491.7" width="21.6" height="5.6" rx="3.4" fill="#111" fill-opacity="1.00" filter="url(#bl)"/>
</g>
<rect x="561.5" y="485.2" width="79.3" height="20.0" fill="none" stroke="#4a4a4a" stroke-width="1.1"/>
<text x="560.6" y="498.1" font-size="8.6" text-anchor="end" fill="#222" letter-spacing="0.35" stroke="#222" stroke-width="0.22">β-actin</text>
<text x="641.6" y="499.1" font-size="8.6" fill="#222" letter-spacing="0.35" stroke="#222" stroke-width="0.22">42KDa</text>
<text x="119.6" y="521.0" font-size="11" font-weight="bold" text-anchor="middle">786-O</text>
<text x="16.7" y="532.5" font-size="7.3" fill="#222" stroke="#222" stroke-width="0.22">DCLK1-L-KO</text>
<text x="25.0" y="543.9" font-size="7.9" fill="#222" stroke="#222" stroke-width="0.22">Hypoxia</text>
<rect x="72.2" y="528.0" width="3.5" height="1.4" fill="#111"/>
<rect x="72.2" y="541.5" width="3.5" height="1.4" fill="#111"/>
<rect x="121.0" y="528.0" width="3.5" height="1.4" fill="#111"/>
<text x="122.7" y="544.9" font-size="9" font-weight="bold" text-anchor="middle" fill="#111">+</text>
<text x="175.0" y="531.5" font-size="9" font-weight="bold" text-anchor="middle" fill="#111">+</text>
<text x="175.0" y="544.9" font-size="9" font-weight="bold" text-anchor="middle" fill="#111">+</text>
<rect x="42.8" y="547.3" width="50.5" height="43.3" fill="#eef1f2"/>
<rect x="42.8" y="547.3" width="50.5" height="43.3" fill="#fff" filter="url(#fA)"/>
<rect x="42.8" y="547.3" width="50.5" height="43.3" fill="none" stroke="#6a6a6a" stroke-width="0.9"/>
<rect x="96.1" y="547.3" width="50.7" height="43.3" fill="#eef1f2"/>
<rect x="96.1" y="547.3" width="50.7" height="43.3" fill="#fff" filter="url(#fB)"/>
<rect x="96.1" y="547.3" width="50.7" height="43.3" fill="none" stroke="#6a6a6a" stroke-width="0.9"/>
<rect x="149.3" y="547.3" width="50.7" height="43.3" fill="#eef1f2"/>
<rect x="149.3" y="547.3" width="50.7" height="43.3" fill="#fff" filter="url(#fC)"/>
<rect x="149.3" y="547.3" width="50.7" height="43.3" fill="none" stroke="#6a6a6a" stroke-width="0.9"/>
<rect x="42.8" y="594.0" width="50.5" height="44.4" fill="#eef1f2"/>
<rect x="42.8" y="594.0" width="50.5" height="44.4" fill="#fff" filter="url(#iA)"/>
<rect x="42.8" y="594.0" width="50.5" height="44.4" fill="none" stroke="#6a6a6a" stroke-width="0.9"/>
<rect x="96.1" y="594.0" width="50.7" height="44.4" fill="#eef1f2"/>
<rect x="96.1" y="594.0" width="50.7" height="44.4" fill="#fff" filter="url(#iB)"/>
<rect x="96.1" y="594.0" width="50.7" height="44.4" fill="none" stroke="#6a6a6a" stroke-width="0.9"/>
<rect x="149.3" y="594.0" width="50.7" height="44.4" fill="#eef1f2"/>
<rect x="149.3" y="594.0" width="50.7" height="44.4" fill="#fff" filter="url(#iC)"/>
<rect x="149.3" y="594.0" width="50.7" height="44.4" fill="none" stroke="#6a6a6a" stroke-width="0.9"/>
<text transform="translate(36.9,569.0) rotate(-90)" y="3.67" font-size="10.2" text-anchor="middle" fill="#222" stroke="#222" stroke-width="0.22">Migration</text>
<text transform="translate(36.9,616.0) rotate(-90)" y="3.67" font-size="10.2" text-anchor="middle" fill="#222" stroke="#222" stroke-width="0.22">Invasion</text>
<text x="117.8" y="672.5" font-size="11" font-weight="bold" text-anchor="middle">OS-RC-2</text>
<text x="14.5" y="683.0" font-size="7.3" fill="#222" stroke="#222" stroke-width="0.22">DCLK1-L-KO</text>
<text x="21.8" y="693.8" font-size="7.9" fill="#222" stroke="#222" stroke-width="0.22">Hypoxia</text>
<rect x="69.0" y="678.9" width="3.5" height="1.4" fill="#111"/>
<rect x="69.0" y="692.4" width="3.5" height="1.4" fill="#111"/>
<rect x="118.0" y="678.9" width="3.5" height="1.4" fill="#111"/>
<text x="119.8" y="695.8" font-size="9" font-weight="bold" text-anchor="middle" fill="#111">+</text>
<text x="172.4" y="682.3" font-size="9" font-weight="bold" text-anchor="middle" fill="#111">+</text>
<text x="172.4" y="695.8" font-size="9" font-weight="bold" text-anchor="middle" fill="#111">+</text>
<rect x="43.5" y="697.8" width="51.4" height="44.6" fill="#f6f5f9"/>
<rect x="43.5" y="697.8" width="51.4" height="44.6" fill="#fff" filter="url(#oA)"/>
<rect x="43.5" y="697.8" width="51.4" height="44.6" fill="#fff" filter="url(#wm)"/>
<rect x="43.5" y="697.8" width="51.4" height="44.6" fill="none" stroke="#9a9a9a" stroke-width="1.2"/>
<rect x="96.8" y="697.8" width="50.7" height="44.6" fill="#f6f5f9"/>
<rect x="96.8" y="697.8" width="50.7" height="44.6" fill="#fff" filter="url(#oB)"/>
<rect x="96.8" y="697.8" width="50.7" height="44.6" fill="#fff" filter="url(#wm)"/>
<rect x="96.8" y="697.8" width="50.7" height="44.6" fill="none" stroke="#9a9a9a" stroke-width="1.2"/>
<rect x="149.3" y="697.8" width="50.7" height="44.6" fill="#eef1f2"/>
<rect x="149.3" y="697.8" width="50.7" height="44.6" fill="#fff" filter="url(#oC)"/>
<rect x="149.3" y="697.8" width="50.7" height="44.6" fill="none" stroke="#9a9a9a" stroke-width="1.2"/>
<rect x="43.5" y="745.2" width="51.4" height="45.1" fill="#f6f5f9"/>
<rect x="43.5" y="745.2" width="51.4" height="45.1" fill="#fff" filter="url(#oA2)"/>
<rect x="43.5" y="745.2" width="51.4" height="45.1" fill="#fff" filter="url(#wm2)"/>
<rect x="43.5" y="745.2" width="51.4" height="45.1" fill="none" stroke="#9a9a9a" stroke-width="1.2"/>
<rect x="96.8" y="745.2" width="50.7" height="45.1" fill="#f6f5f9"/>
<rect x="96.8" y="745.2" width="50.7" height="45.1" fill="#fff" filter="url(#oB2)"/>
<rect x="96.8" y="745.2" width="50.7" height="45.1" fill="#fff" filter="url(#wm2)"/>
<rect x="96.8" y="745.2" width="50.7" height="45.1" fill="none" stroke="#9a9a9a" stroke-width="1.2"/>
<rect x="149.3" y="745.2" width="50.7" height="45.1" fill="#eef1f2"/>
<rect x="149.3" y="745.2" width="50.7" height="45.1" fill="#fff" filter="url(#oC2)"/>
<rect x="149.3" y="745.2" width="50.7" height="45.1" fill="none" stroke="#9a9a9a" stroke-width="1.2"/>
<text transform="translate(36.9,720.0) rotate(-90)" y="3.67" font-size="10.2" text-anchor="middle" fill="#222" stroke="#222" stroke-width="0.22">Migration</text>
<text transform="translate(36.9,767.7) rotate(-90)" y="3.67" font-size="10.2" text-anchor="middle" fill="#222" stroke="#222" stroke-width="0.22">Invasion</text>
<text x="281.2" y="514.2" font-size="9.9" font-weight="bold" text-anchor="middle">786-O</text>
<circle cx="258.2" cy="520.9" r="1.9" fill="#3b5b9c"/>
<text x="268.5" y="523.2" font-size="6.5" fill="#222" stroke="#222" stroke-width="0.22">V2</text>
<rect x="256.3" y="527.1" width="3.8" height="3.8" fill="#d12c38"/>
<text x="268.5" y="531.3" font-size="6.5" fill="#222" stroke="#222" stroke-width="0.22">Hypoxia</text>
<path d="M258.2 534.7L260.6 539.0L255.8 539.0Z" fill="#222"/>
<text x="268.5" y="539.4" font-size="6.5" fill="#222" stroke="#222" stroke-width="0.22">Hypoxia-DCLK1-L-KO</text>
<line x1="235.7" y1="554.0" x2="235.7" y2="633.0" stroke="#333" stroke-width="1.1"/>
<line x1="233.5" y1="632.5" x2="235.7" y2="632.5" stroke="#333" stroke-width="1.1"/>
<text x="232.0" y="634.8" font-size="6.4" font-weight="bold" text-anchor="end">0</text>
<line x1="233.5" y1="616.9" x2="235.7" y2="616.9" stroke="#333" stroke-width="1.1"/>
<text x="232.0" y="619.2" font-size="6.4" font-weight="bold" text-anchor="end">50</text>
<line x1="233.5" y1="601.3" x2="235.7" y2="601.3" stroke="#333" stroke-width="1.1"/>
<text x="232.0" y="603.6" font-size="6.4" font-weight="bold" text-anchor="end">100</text>
<line x1="233.5" y1="585.7" x2="235.7" y2="585.7" stroke="#333" stroke-width="1.1"/>
<text x="232.0" y="588.0" font-size="6.4" font-weight="bold" text-anchor="end">150</text>
<line x1="233.5" y1="570.1" x2="235.7" y2="570.1" stroke="#333" stroke-width="1.1"/>
<text x="232.0" y="572.4" font-size="6.4" font-weight="bold" text-anchor="end">200</text>
<line x1="233.5" y1="554.5" x2="235.7" y2="554.5" stroke="#333" stroke-width="1.1"/>
<text x="232.0" y="556.8" font-size="6.4" font-weight="bold" text-anchor="end">250</text>
<line x1="235.7" y1="632.5" x2="333.9" y2="632.5" stroke="#333" stroke-width="1.2"/>
<line x1="260.8" y1="632.5" x2="260.8" y2="634.5" stroke="#333" stroke-width="1.2"/>
<line x1="308.6" y1="632.5" x2="308.6" y2="634.5" stroke="#333" stroke-width="1.2"/>
<path d="M242.9 632.5V598.2H254.2V632.5" fill="none" stroke="#5a78b8" stroke-width="1.1"/>
<line x1="248.6" y1="600.1" x2="248.6" y2="595.7" stroke="#3b5b9c" stroke-width="0.9"/>
<line x1="246.1" y1="595.7" x2="251.1" y2="595.7" stroke="#3b5b9c" stroke-width="0.9"/>
<line x1="246.1" y1="600.1" x2="251.1" y2="600.1" stroke="#3b5b9c" stroke-width="0.9"/>
<circle cx="245.2" cy="595.7" r="1.6" fill="#3b5b9c"/>
<circle cx="248.6" cy="598.8" r="1.6" fill="#3b5b9c"/>
<circle cx="251.9" cy="600.1" r="1.6" fill="#3b5b9c"/>
<path d="M255.2 632.5V566.4H266.4V632.5" fill="none" stroke="#d9434e" stroke-width="1.1"/>
<line x1="260.8" y1="573.2" x2="260.8" y2="559.8" stroke="#d12c38" stroke-width="0.9"/>
<line x1="258.3" y1="559.8" x2="263.3" y2="559.8" stroke="#d12c38" stroke-width="0.9"/>
<line x1="258.3" y1="573.2" x2="263.3" y2="573.2" stroke="#d12c38" stroke-width="0.9"/>
<rect x="255.8" y="558.2" width="3.2" height="3.2" fill="#d12c38"/>
<rect x="259.2" y="568.5" width="3.2" height="3.2" fill="#d12c38"/>
<rect x="262.6" y="571.6" width="3.2" height="3.2" fill="#d12c38"/>
<path d="M267.4 632.5V609.1H278.7V632.5" fill="none" stroke="#444" stroke-width="1.1"/>
<line x1="273.0" y1="611.3" x2="273.0" y2="606.3" stroke="#222" stroke-width="0.9"/>
<line x1="270.5" y1="606.3" x2="275.5" y2="606.3" stroke="#222" stroke-width="0.9"/>
<line x1="270.5" y1="611.3" x2="275.5" y2="611.3" stroke="#222" stroke-width="0.9"/>
<path d="M269.7 604.3L271.7 607.9L267.6 607.9Z" fill="#222"/>
<path d="M273.0 608.6L275.1 612.3L271.0 612.3Z" fill="#222"/>
<path d="M276.4 609.3L278.5 612.9L274.4 612.9Z" fill="#222"/>
<path d="M291.0 632.5V599.7H301.6V632.5" fill="none" stroke="#5a78b8" stroke-width="1.1"/>
<line x1="296.3" y1="600.4" x2="296.3" y2="598.2" stroke="#3b5b9c" stroke-width="0.9"/>
<line x1="293.8" y1="598.2" x2="298.8" y2="598.2" stroke="#3b5b9c" stroke-width="0.9"/>
<line x1="293.8" y1="600.4" x2="298.8" y2="600.4" stroke="#3b5b9c" stroke-width="0.9"/>
<circle cx="293.1" cy="598.2" r="1.6" fill="#3b5b9c"/>
<circle cx="296.3" cy="599.4" r="1.6" fill="#3b5b9c"/>
<circle cx="299.5" cy="600.4" r="1.6" fill="#3b5b9c"/>
<path d="M303.2 632.5V567.6H313.8V632.5" fill="none" stroke="#d9434e" stroke-width="1.1"/>
<line x1="308.5" y1="568.5" x2="308.5" y2="561.4" stroke="#d12c38" stroke-width="0.9"/>
<line x1="306.0" y1="561.4" x2="311.0" y2="561.4" stroke="#d12c38" stroke-width="0.9"/>
<line x1="306.0" y1="568.5" x2="311.0" y2="568.5" stroke="#d12c38" stroke-width="0.9"/>
<rect x="303.7" y="559.8" width="3.2" height="3.2" fill="#d12c38"/>
<rect x="306.9" y="566.0" width="3.2" height="3.2" fill="#d12c38"/>
<rect x="310.1" y="566.9" width="3.2" height="3.2" fill="#d12c38"/>
<path d="M315.5 632.5V610.7H326.1V632.5" fill="none" stroke="#444" stroke-width="1.1"/>
<line x1="320.8" y1="611.6" x2="320.8" y2="609.4" stroke="#222" stroke-width="0.9"/>
<line x1="318.3" y1="609.4" x2="323.3" y2="609.4" stroke="#222" stroke-width="0.9"/>
<line x1="318.3" y1="611.6" x2="323.3" y2="611.6" stroke="#222" stroke-width="0.9"/>
<path d="M317.6 607.4L319.6 611.0L315.6 611.0Z" fill="#222"/>
<path d="M320.8 608.6L322.8 612.3L318.8 612.3Z" fill="#222"/>
<path d="M324.0 609.6L326.0 613.2L322.0 613.2Z" fill="#222"/>
<line x1="245.4" y1="555.0" x2="259.3" y2="555.0" stroke="#4a4a4a" stroke-width="0.9"/>
<text x="252.4" y="555.0" font-size="6.2" font-weight="bold" text-anchor="middle" fill="#333">**</text>
<line x1="261.9" y1="555.0" x2="276.6" y2="555.0" stroke="#4a4a4a" stroke-width="0.9"/>
<text x="269.2" y="555.0" font-size="6.2" font-weight="bold" text-anchor="middle" fill="#333">***</text>
<line x1="295.4" y1="555.0" x2="310.4" y2="555.0" stroke="#4a4a4a" stroke-width="0.9"/>
<text x="302.9" y="555.0" font-size="6.2" font-weight="bold" text-anchor="middle" fill="#333">***</text>
<line x1="312.4" y1="555.0" x2="327.1" y2="555.0" stroke="#4a4a4a" stroke-width="0.9"/>
<text x="319.8" y="555.0" font-size="6.2" font-weight="bold" text-anchor="middle" fill="#333">***</text>
<text transform="translate(216.9,593.4) rotate(-90)" y="2.3" font-size="6.4" font-weight="bold" text-anchor="middle">Cell Counted / field</text>
<text x="258.0" y="645.9" font-size="6.9" font-weight="bold" text-anchor="middle">Migration</text>
<text x="312.9" y="645.1" font-size="6.9" font-weight="bold" text-anchor="middle">Invasion</text>
<text x="285.9" y="669.4" font-size="8.6" font-weight="bold" text-anchor="middle">OS-RC-2</text>
<circle cx="262.3" cy="678.4" r="1.9" fill="#3b5b9c"/>
<text x="272.6" y="680.8" font-size="6.6" fill="#222" stroke="#222" stroke-width="0.22">V2</text>
<rect x="260.4" y="684.2" width="3.8" height="3.8" fill="#d12c38"/>
<text x="272.6" y="688.5" font-size="6.6" fill="#222" stroke="#222" stroke-width="0.22">Hypoxia</text>
<path d="M262.3 691.4L264.7 695.7L259.9 695.7Z" fill="#222"/>
<text x="272.6" y="696.2" font-size="6.6" fill="#222" stroke="#222" stroke-width="0.22">Hypoxia-DCLK1-L-KO</text>
<line x1="234.5" y1="697.6" x2="234.5" y2="779.3" stroke="#333" stroke-width="1.1"/>
<line x1="232.3" y1="778.8" x2="234.5" y2="778.8" stroke="#333" stroke-width="1.1"/>
<text x="230.8" y="781.1" font-size="6.4" font-weight="bold" text-anchor="end">0</text>
<line x1="232.3" y1="762.7" x2="234.5" y2="762.7" stroke="#333" stroke-width="1.1"/>
<text x="230.8" y="765.0" font-size="6.4" font-weight="bold" text-anchor="end">100</text>
<line x1="232.3" y1="746.6" x2="234.5" y2="746.6" stroke="#333" stroke-width="1.1"/>
<text x="230.8" y="748.9" font-size="6.4" font-weight="bold" text-anchor="end">200</text>
<line x1="232.3" y1="730.4" x2="234.5" y2="730.4" stroke="#333" stroke-width="1.1"/>
<text x="230.8" y="732.7" font-size="6.4" font-weight="bold" text-anchor="end">300</text>
<line x1="232.3" y1="714.3" x2="234.5" y2="714.3" stroke="#333" stroke-width="1.1"/>
<text x="230.8" y="716.6" font-size="6.4" font-weight="bold" text-anchor="end">400</text>
<line x1="232.3" y1="698.2" x2="234.5" y2="698.2" stroke="#333" stroke-width="1.1"/>
<text x="230.8" y="700.5" font-size="6.4" font-weight="bold" text-anchor="end">500</text>
<line x1="234.5" y1="778.8" x2="333.0" y2="778.8" stroke="#333" stroke-width="1.2"/>
<line x1="261.6" y1="778.8" x2="261.6" y2="780.8" stroke="#333" stroke-width="1.2"/>
<line x1="311.1" y1="778.8" x2="311.1" y2="780.8" stroke="#333" stroke-width="1.2"/>
<path d="M242.9 778.8V730.4H254.8V778.8" fill="none" stroke="#5a78b8" stroke-width="1.1"/>
<line x1="248.9" y1="731.2" x2="248.9" y2="728.8" stroke="#3b5b9c" stroke-width="0.9"/>
<line x1="246.4" y1="728.8" x2="251.4" y2="728.8" stroke="#3b5b9c" stroke-width="0.9"/>
<line x1="246.4" y1="731.2" x2="251.4" y2="731.2" stroke="#3b5b9c" stroke-width="0.9"/>
<circle cx="245.3" cy="728.8" r="1.6" fill="#3b5b9c"/>
<circle cx="248.9" cy="730.4" r="1.6" fill="#3b5b9c"/>
<circle cx="252.4" cy="731.2" r="1.6" fill="#3b5b9c"/>
<path d="M255.6 778.8V711.9H267.4V778.8" fill="none" stroke="#d9434e" stroke-width="1.1"/>
<line x1="261.5" y1="712.7" x2="261.5" y2="710.8" stroke="#d12c38" stroke-width="0.9"/>
<line x1="259.0" y1="710.8" x2="264.0" y2="710.8" stroke="#d12c38" stroke-width="0.9"/>
<line x1="259.0" y1="712.7" x2="264.0" y2="712.7" stroke="#d12c38" stroke-width="0.9"/>
<rect x="256.4" y="709.2" width="3.2" height="3.2" fill="#d12c38"/>
<rect x="259.9" y="710.3" width="3.2" height="3.2" fill="#d12c38"/>
<rect x="263.4" y="711.1" width="3.2" height="3.2" fill="#d12c38"/>
<path d="M268.5 778.8V756.2H280.3V778.8" fill="none" stroke="#444" stroke-width="1.1"/>
<line x1="274.4" y1="759.5" x2="274.4" y2="753.8" stroke="#222" stroke-width="0.9"/>
<line x1="271.9" y1="753.8" x2="276.9" y2="753.8" stroke="#222" stroke-width="0.9"/>
<line x1="271.9" y1="759.5" x2="276.9" y2="759.5" stroke="#222" stroke-width="0.9"/>
<path d="M270.9 751.8L272.9 755.4L268.8 755.4Z" fill="#222"/>
<path d="M274.4 754.2L276.4 757.9L272.4 757.9Z" fill="#222"/>
<path d="M277.9 757.4L280.0 761.1L275.9 761.1Z" fill="#222"/>
<path d="M292.4 778.8V736.1H304.2V778.8" fill="none" stroke="#5a78b8" stroke-width="1.1"/>
<line x1="298.3" y1="737.2" x2="298.3" y2="734.0" stroke="#3b5b9c" stroke-width="0.9"/>
<line x1="295.8" y1="734.0" x2="300.8" y2="734.0" stroke="#3b5b9c" stroke-width="0.9"/>
<line x1="295.8" y1="737.2" x2="300.8" y2="737.2" stroke="#3b5b9c" stroke-width="0.9"/>
<circle cx="294.8" cy="734.0" r="1.6" fill="#3b5b9c"/>
<circle cx="298.3" cy="736.1" r="1.6" fill="#3b5b9c"/>
<circle cx="301.8" cy="737.2" r="1.6" fill="#3b5b9c"/>
<path d="M305.7 778.8V712.7H317.5V778.8" fill="none" stroke="#d9434e" stroke-width="1.1"/>
<line x1="311.6" y1="714.3" x2="311.6" y2="707.9" stroke="#d12c38" stroke-width="0.9"/>
<line x1="309.1" y1="707.9" x2="314.1" y2="707.9" stroke="#d12c38" stroke-width="0.9"/>
<line x1="309.1" y1="714.3" x2="314.1" y2="714.3" stroke="#d12c38" stroke-width="0.9"/>
<rect x="306.5" y="706.3" width="3.2" height="3.2" fill="#d12c38"/>
<rect x="310.0" y="711.9" width="3.2" height="3.2" fill="#d12c38"/>
<rect x="313.5" y="712.7" width="3.2" height="3.2" fill="#d12c38"/>
<path d="M318.5 778.8V762.7H329.8V778.8" fill="none" stroke="#444" stroke-width="1.1"/>
<line x1="324.1" y1="763.2" x2="324.1" y2="762.0" stroke="#222" stroke-width="0.9"/>
<line x1="321.6" y1="762.0" x2="326.6" y2="762.0" stroke="#222" stroke-width="0.9"/>
<line x1="321.6" y1="763.2" x2="326.6" y2="763.2" stroke="#222" stroke-width="0.9"/>
<path d="M320.8 760.0L322.8 763.7L318.7 763.7Z" fill="#222"/>
<path d="M324.1 760.7L326.2 764.3L322.1 764.3Z" fill="#222"/>
<path d="M327.5 761.1L329.6 764.8L325.5 764.8Z" fill="#222"/>
<line x1="245.4" y1="704.0" x2="259.7" y2="704.0" stroke="#4a4a4a" stroke-width="0.9"/>
<text x="252.6" y="704.0" font-size="6.2" font-weight="bold" text-anchor="middle" fill="#333">***</text>
<line x1="262.3" y1="704.0" x2="276.6" y2="704.0" stroke="#4a4a4a" stroke-width="0.9"/>
<text x="269.5" y="704.0" font-size="6.2" font-weight="bold" text-anchor="middle" fill="#333">****</text>
<line x1="297.1" y1="704.0" x2="311.4" y2="704.0" stroke="#4a4a4a" stroke-width="0.9"/>
<text x="304.2" y="704.0" font-size="6.2" font-weight="bold" text-anchor="middle" fill="#333">***</text>
<line x1="313.4" y1="704.0" x2="328.3" y2="704.0" stroke="#4a4a4a" stroke-width="0.9"/>
<text x="320.9" y="704.0" font-size="6.2" font-weight="bold" text-anchor="middle" fill="#333">****</text>
<text transform="translate(214.9,738.0) rotate(-90)" y="2.3" font-size="6.4" font-weight="bold" text-anchor="middle">Cell Counted / field</text>
<text x="258.8" y="790.4" font-size="6.9" font-weight="bold" text-anchor="middle">Migration</text>
<text x="315.5" y="789.6" font-size="6.9" font-weight="bold" text-anchor="middle">Invasion</text>
<text x="104.6" y="828.2" font-size="13.1" font-weight="bold" text-anchor="middle">786-O</text>
<text x="24.3" y="844.9" font-size="7.8" fill="#222" stroke="#222" stroke-width="0.22">DCLK1-L-KO</text>
<text x="33.0" y="857.1" font-size="8.6" fill="#222" stroke="#222" stroke-width="0.22">Hypoxia</text>
<rect x="76.0" y="839.4" width="3.5" height="1.4" fill="#111"/>
<rect x="76.0" y="855.5" width="3.5" height="1.4" fill="#111"/>
<rect x="100.8" y="839.4" width="3.5" height="1.4" fill="#111"/>
<text x="102.5" y="859.0" font-size="9" font-weight="bold" text-anchor="middle" fill="#111">+</text>
<text x="128.3" y="842.8" font-size="9" font-weight="bold" text-anchor="middle" fill="#111">+</text>
<text x="128.3" y="859.0" font-size="9" font-weight="bold" text-anchor="middle" fill="#111">+</text>
<rect x="63.1" y="860.7" width="77.5" height="18.9" fill="#fbfbfb"/>
<clipPath id="k30"><rect x="63.1" y="860.7" width="77.5" height="18.9"/></clipPath><g clip-path="url(#k30)">
<rect x="67.0" y="867.3" width="20.0" height="2.8" rx="1.7" fill="#111" fill-opacity="0.30" filter="url(#bl)"/>
<rect x="91.3" y="867.9" width="20.0" height="4.1" rx="2.5" fill="#111" fill-opacity="0.90" filter="url(#bl)"/>
<rect x="114.5" y="867.2" width="11.0" height="3.4" rx="2.0" fill="#111" fill-opacity="0.75" filter="url(#bl)"/>
<rect x="130.2" y="867.6" width="5.6" height="2.8" rx="1.7" fill="#111" fill-opacity="0.60" filter="url(#bl)"/>
</g>
<rect x="63.1" y="860.7" width="77.5" height="18.9" fill="none" stroke="#4a4a4a" stroke-width="1.1"/>
<text x="61.9" y="873.8" font-size="10.1" text-anchor="end" fill="#333" letter-spacing="0.6" stroke="#333" stroke-width="0.22">CD44</text>
<text x="143.6" y="873.8" font-size="10.1" fill="#333" letter-spacing="0.6" stroke="#333" stroke-width="0.22">80KDa</text>
<rect x="63.1" y="885.3" width="77.5" height="19.8" fill="#f8f8f8"/>
<clipPath id="k31"><rect x="63.1" y="885.3" width="77.5" height="19.8"/></clipPath><g clip-path="url(#k31)">
<rect x="68.1" y="892.0" width="20.4" height="3.9" rx="2.4" fill="#111" fill-opacity="1.00" filter="url(#bl)"/>
<rect x="92.3" y="891.7" width="19.8" height="7.8" rx="4.7" fill="#111" fill-opacity="1.00" filter="url(#bl)"/>
<rect x="117.3" y="892.1" width="15.0" height="2.8" rx="1.7" fill="#111" fill-opacity="0.90" filter="url(#bl)"/>
</g>
<rect x="63.1" y="885.3" width="77.5" height="19.8" fill="none" stroke="#4a4a4a" stroke-width="1.1"/>
<text x="61.9" y="896.1" font-size="10.1" text-anchor="end" fill="#333" letter-spacing="0.6" stroke="#333" stroke-width="0.22">Nanog</text>
<text x="143.6" y="896.1" font-size="10.1" fill="#333" letter-spacing="0.6" stroke="#333" stroke-width="0.22">42KDa</text>
<rect x="63.1" y="907.6" width="77.5" height="19.9" fill="#f7f8f8"/>
<clipPath id="k32"><rect x="63.1" y="907.6" width="77.5" height="19.9"/></clipPath><g clip-path="url(#k32)">
<rect x="74.8" y="914.5" width="15.0" height="3.9" rx="2.4" fill="#111" fill-opacity="1.00" filter="url(#bl)"/>
<rect x="92.4" y="914.2" width="19.0" height="6.2" rx="3.7" fill="#111" fill-opacity="1.00" filter="url(#bl)"/>
<rect x="116.0" y="915.6" width="16.0" height="2.8" rx="1.7" fill="#111" fill-opacity="0.10" filter="url(#bl)"/>
</g>
<rect x="63.1" y="907.6" width="77.5" height="19.9" fill="none" stroke="#4a4a4a" stroke-width="1.1"/>
<text x="61.9" y="920.2" font-size="10.1" text-anchor="end" fill="#333" letter-spacing="0.6" stroke="#333" stroke-width="0.22">Bmi-1</text>
<text x="143.6" y="920.2" font-size="10.1" fill="#333" letter-spacing="0.6" stroke="#333" stroke-width="0.22">43KDa</text>
<rect x="63.1" y="931.2" width="77.5" height="18.8" fill="#fbfbfb"/>
<clipPath id="k33"><rect x="63.1" y="931.2" width="77.5" height="18.8"/></clipPath><g clip-path="url(#k33)">
<rect x="70.5" y="937.0" width="16.2" height="4.5" rx="2.7" fill="#111" fill-opacity="1.00" filter="url(#bl)"/>
<rect x="92.2" y="937.0" width="15.5" height="4.5" rx="2.7" fill="#111" fill-opacity="1.00" filter="url(#bl)"/>
<rect x="113.3" y="937.5" width="16.2" height="3.9" rx="2.4" fill="#111" fill-opacity="0.90" filter="url(#bl)"/>
</g>
<rect x="63.1" y="931.2" width="77.5" height="18.8" fill="none" stroke="#4a4a4a" stroke-width="1.1"/>
<text x="61.9" y="943.0" font-size="10.1" text-anchor="end" fill="#333" letter-spacing="0.6" stroke="#333" stroke-width="0.22">β-actin</text>
<text x="143.6" y="943.0" font-size="10.1" fill="#333" letter-spacing="0.6" stroke="#333" stroke-width="0.22">42KDa</text>
<text x="271.7" y="827.9" font-size="12.2" font-weight="bold" text-anchor="middle">OS-RC-2</text>
<text x="192.8" y="843.5" font-size="7.8" fill="#222" stroke="#222" stroke-width="0.22">DCLK1-L-KO</text>
<text x="201.5" y="856.2" font-size="8.6" fill="#222" stroke="#222" stroke-width="0.22">Hypoxia</text>
<rect x="244.9" y="838.4" width="3.5" height="1.4" fill="#111"/>
<rect x="244.9" y="854.1" width="3.5" height="1.4" fill="#111"/>
<rect x="269.9" y="838.4" width="3.5" height="1.4" fill="#111"/>
<text x="271.7" y="857.6" font-size="9" font-weight="bold" text-anchor="middle" fill="#111">+</text>
<text x="296.6" y="841.8" font-size="9" font-weight="bold" text-anchor="middle" fill="#111">+</text>
<text x="296.6" y="857.6" font-size="9" font-weight="bold" text-anchor="middle" fill="#111">+</text>
<rect x="233.5" y="860.5" width="77.8" height="19.1" fill="#fbfbfb"/>
<clipPath id="k34"><rect x="233.5" y="860.5" width="77.8" height="19.1"/></clipPath><g clip-path="url(#k34)">
<rect x="235.0" y="866.3" width="21.0" height="5.6" rx="3.4" fill="#111" fill-opacity="1.00" filter="url(#bl)"/>
<rect x="259.2" y="865.7" width="22.3" height="7.3" rx="4.4" fill="#111" fill-opacity="1.00" filter="url(#bl)"/>
<rect x="284.6" y="866.4" width="19.8" height="3.9" rx="2.4" fill="#111" fill-opacity="1.00" filter="url(#bl)"/>
</g>
<rect x="233.5" y="860.5" width="77.8" height="19.1" fill="none" stroke="#4a4a4a" stroke-width="1.1"/>
<text x="230.2" y="872.1" font-size="10.1" text-anchor="end" fill="#333" letter-spacing="0.6" stroke="#333" stroke-width="0.22">Oct4</text>
<text x="313.7" y="872.1" font-size="10.1" fill="#333" letter-spacing="0.6" stroke="#333" stroke-width="0.22">45KDa</text>
<rect x="233.5" y="883.7" width="77.8" height="19.8" fill="#f4f4f4"/>
<clipPath id="k35"><rect x="233.5" y="883.7" width="77.8" height="19.8"/></clipPath><g clip-path="url(#k35)">
<rect x="287.5" y="882.0" width="25.0" height="22.0" rx="2.0" fill="#111" fill-opacity="0.10" filter="url(#bl)"/>
<rect x="237.5" y="891.3" width="19.0" height="3.4" rx="2.0" fill="#111" fill-opacity="0.20" filter="url(#bl)"/>
<rect x="261.6" y="887.7" width="21.0" height="11.2" rx="6.7" fill="#111" fill-opacity="1.00" filter="url(#bl)"/>
<rect x="287.1" y="889.9" width="19.8" height="6.2" rx="3.7" fill="#111" fill-opacity="1.00" filter="url(#bl)"/>
</g>
<rect x="233.5" y="883.7" width="77.8" height="19.8" fill="none" stroke="#4a4a4a" stroke-width="1.1"/>
<text x="230.2" y="897.8" font-size="10.1" text-anchor="end" fill="#333" letter-spacing="0.6" stroke="#333" stroke-width="0.22">Sox2</text>
<text x="313.7" y="897.8" font-size="10.1" fill="#333" letter-spacing="0.6" stroke="#333" stroke-width="0.22">35KDa</text>
<rect x="233.5" y="907.2" width="77.8" height="19.9" fill="#f3f3f3"/>
<clipPath id="k36"><rect x="233.5" y="907.2" width="77.8" height="19.9"/></clipPath><g clip-path="url(#k36)">
<rect x="243.6" y="913.1" width="12.5" height="5.6" rx="3.4" fill="#111" fill-opacity="1.00" filter="url(#bl)"/>
<rect x="264.7" y="910.0" width="18.0" height="14.0" rx="4.0" fill="#111" fill-opacity="0.22" filter="url(#bl)"/>
<rect x="275.5" y="912.6" width="7.0" height="6.7" rx="3.5" fill="#111" fill-opacity="0.70" filter="url(#bl)"/>
<rect x="288.0" y="914.8" width="16.0" height="4.5" rx="2.7" fill="#111" fill-opacity="0.05" filter="url(#bl)"/>
</g>
<rect x="233.5" y="907.2" width="77.8" height="19.9" fill="none" stroke="#4a4a4a" stroke-width="1.1"/>
<text x="230.2" y="920.8" font-size="10.1" text-anchor="end" fill="#333" letter-spacing="0.6" stroke="#333" stroke-width="0.22">Bmi-1</text>
<text x="313.7" y="920.8" font-size="10.1" fill="#333" letter-spacing="0.6" stroke="#333" stroke-width="0.22">43KDa</text>
<rect x="233.5" y="931.2" width="77.8" height="19.1" fill="#fbfbfb"/>
<clipPath id="k37"><rect x="233.5" y="931.2" width="77.8" height="19.1"/></clipPath><g clip-path="url(#k37)">
<rect x="241.0" y="937.3" width="22.0" height="5.0" rx="3.0" fill="#111" fill-opacity="1.00" filter="url(#bl)"/>
<rect x="260.0" y="937.4" width="22.0" height="6.2" rx="3.7" fill="#111" fill-opacity="1.00" filter="url(#bl)"/>
<rect x="282.0" y="937.3" width="22.0" height="5.0" rx="3.0" fill="#111" fill-opacity="1.00" filter="url(#bl)"/>
</g>
<rect x="233.5" y="931.2" width="77.8" height="19.1" fill="none" stroke="#4a4a4a" stroke-width="1.1"/>
<text x="230.2" y="943.6" font-size="10.1" text-anchor="end" fill="#333" letter-spacing="0.6" stroke="#333" stroke-width="0.22">β-actin</text>
<text x="313.7" y="943.6" font-size="10.1" fill="#333" letter-spacing="0.6" stroke="#333" stroke-width="0.22">42KDa</text>
<text x="449.7" y="790.3" font-size="15.6" font-weight="bold" text-anchor="middle">786-O</text>
<circle cx="419.4" cy="801.5" r="2.7" fill="#3b5b9c"/>
<text x="433.3" y="805.0" font-size="9.7" fill="#222" stroke="#222" stroke-width="0.22">V2</text>
<rect x="416.7" y="809.8" width="5.4" height="5.4" fill="#d12c38"/>
<text x="433.3" y="816.0" font-size="9.7" fill="#222" stroke="#222" stroke-width="0.22">Hypoxia</text>
<path d="M419.4 820.2L422.8 826.4L416.0 826.4Z" fill="#222"/>
<text x="433.3" y="827.1" font-size="9.7" fill="#222" stroke="#222" stroke-width="0.22">Hypoxia-DCLK1-L-KO</text>
<line x1="412.3" y1="828.4" x2="412.3" y2="957.6" stroke="#777" stroke-width="1.3"/>
<line x1="407.3" y1="957.0" x2="412.3" y2="957.0" stroke="#777" stroke-width="1.3"/>
<text x="405.2" y="960.3" font-size="9.2" font-weight="bold" text-anchor="end">0</text>
<line x1="407.3" y1="925.0" x2="412.3" y2="925.0" stroke="#777" stroke-width="1.3"/>
<text x="405.2" y="928.3" font-size="9.2" font-weight="bold" text-anchor="end">20</text>
<line x1="407.3" y1="893.0" x2="412.3" y2="893.0" stroke="#777" stroke-width="1.3"/>
<text x="405.2" y="896.3" font-size="9.2" font-weight="bold" text-anchor="end">40</text>
<line x1="407.3" y1="861.0" x2="412.3" y2="861.0" stroke="#777" stroke-width="1.3"/>
<text x="405.2" y="864.3" font-size="9.2" font-weight="bold" text-anchor="end">60</text>
<line x1="407.3" y1="829.0" x2="412.3" y2="829.0" stroke="#777" stroke-width="1.3"/>
<text x="405.2" y="832.3" font-size="9.2" font-weight="bold" text-anchor="end">80</text>
<line x1="412.3" y1="957.0" x2="520.0" y2="957.0" stroke="#777" stroke-width="1.3"/>
<path d="M423.6 957.0V921.8H442.5V957.0" fill="none" stroke="#4a6aa8" stroke-width="1.1"/>
<line x1="433.1" y1="929.0" x2="433.1" y2="912.2" stroke="#3b5b9c" stroke-width="1.1"/>
<line x1="428.1" y1="912.2" x2="438.1" y2="912.2" stroke="#3b5b9c" stroke-width="1.1"/>
<line x1="428.1" y1="929.0" x2="438.1" y2="929.0" stroke="#3b5b9c" stroke-width="1.1"/>
<circle cx="433.1" cy="912.2" r="2.4" fill="#3b5b9c"/>
<circle cx="428.6" cy="923.4" r="2.4" fill="#3b5b9c"/>
<circle cx="437.6" cy="928.2" r="2.4" fill="#3b5b9c"/>
<path d="M454.3 957.0V864.2H474.5V957.0" fill="none" stroke="#f0a0a6" stroke-width="1.1"/>
<line x1="464.4" y1="869.0" x2="464.4" y2="857.8" stroke="#d12c38" stroke-width="1.1"/>
<line x1="459.4" y1="857.8" x2="469.4" y2="857.8" stroke="#d12c38" stroke-width="1.1"/>
<line x1="459.4" y1="869.0" x2="469.4" y2="869.0" stroke="#d12c38" stroke-width="1.1"/>
<rect x="462.0" y="855.4" width="4.8" height="4.8" fill="#d12c38"/>
<rect x="457.0" y="861.8" width="4.8" height="4.8" fill="#d12c38"/>
<rect x="466.5" y="862.6" width="4.8" height="4.8" fill="#d12c38"/>
<path d="M485.8 957.0V925.0H506.1V957.0" fill="none" stroke="#333" stroke-width="1.1"/>
<line x1="496.0" y1="931.4" x2="496.0" y2="917.8" stroke="#222" stroke-width="1.1"/>
<line x1="491.0" y1="917.8" x2="501.0" y2="917.8" stroke="#222" stroke-width="1.1"/>
<line x1="491.0" y1="931.4" x2="501.0" y2="931.4" stroke="#222" stroke-width="1.1"/>
<path d="M496.0 914.8L499.0 920.2L492.9 920.2Z" fill="#222"/>
<path d="M491.0 926.8L494.0 932.2L487.9 932.2Z" fill="#222"/>
<path d="M501.0 927.6L504.0 933.0L497.9 933.0Z" fill="#222"/>
<line x1="430.6" y1="849.3" x2="463.5" y2="849.3" stroke="#444" stroke-width="1.1"/>
<text x="448.1" y="850.2" font-size="12.5" text-anchor="middle" letter-spacing="1.8" stroke="#1a1a1a" stroke-width="0.22">***</text>
<line x1="467.4" y1="849.3" x2="500.3" y2="849.3" stroke="#444" stroke-width="1.1"/>
<text x="484.9" y="850.2" font-size="12.5" text-anchor="middle" letter-spacing="1.8" stroke="#1a1a1a" stroke-width="0.22">***</text>
<text transform="translate(385.3,892.6) rotate(-90)" y="3.78" font-size="10.5" font-weight="bold" text-anchor="middle">Spheroid formation</text>
<text x="598.3" y="790.1" font-size="15.6" font-weight="bold" text-anchor="middle">OS-RC-2</text>
<circle cx="563.3" cy="800.0" r="2.7" fill="#3b5b9c"/>
<text x="577.2" y="803.5" font-size="9.6" fill="#222" stroke="#222" stroke-width="0.22">V2</text>
<rect x="560.6" y="808.4" width="5.4" height="5.4" fill="#d12c38"/>
<text x="577.2" y="814.6" font-size="9.6" fill="#222" stroke="#222" stroke-width="0.22">Hypoxia</text>
<path d="M563.3 818.9L566.7 825.1L559.9 825.1Z" fill="#222"/>
<text x="577.2" y="825.8" font-size="9.6" fill="#222" stroke="#222" stroke-width="0.22">Hypoxia-DCLK1-L-KO</text>
<line x1="561.5" y1="829.0" x2="561.5" y2="959.5" stroke="#777" stroke-width="1.3"/>
<line x1="556.5" y1="958.9" x2="561.5" y2="958.9" stroke="#777" stroke-width="1.3"/>
<text x="554.4" y="962.2" font-size="9.2" font-weight="bold" text-anchor="end">0</text>
<line x1="556.5" y1="915.8" x2="561.5" y2="915.8" stroke="#777" stroke-width="1.3"/>
<text x="554.4" y="919.1" font-size="9.2" font-weight="bold" text-anchor="end">20</text>
<line x1="556.5" y1="872.7" x2="561.5" y2="872.7" stroke="#777" stroke-width="1.3"/>
<text x="554.4" y="876.0" font-size="9.2" font-weight="bold" text-anchor="end">40</text>
<line x1="556.5" y1="829.6" x2="561.5" y2="829.6" stroke="#777" stroke-width="1.3"/>
<text x="554.4" y="832.9" font-size="9.2" font-weight="bold" text-anchor="end">60</text>
<line x1="561.5" y1="958.9" x2="667.9" y2="958.9" stroke="#777" stroke-width="1.3"/>
<path d="M573.3 958.9V920.1H592.5V958.9" fill="none" stroke="#4a6aa8" stroke-width="1.1"/>
<line x1="582.9" y1="924.4" x2="582.9" y2="913.6" stroke="#3b5b9c" stroke-width="1.1"/>
<line x1="577.9" y1="913.6" x2="587.9" y2="913.6" stroke="#3b5b9c" stroke-width="1.1"/>
<line x1="577.9" y1="924.4" x2="587.9" y2="924.4" stroke="#3b5b9c" stroke-width="1.1"/>
<circle cx="582.9" cy="913.6" r="2.4" fill="#3b5b9c"/>
<circle cx="577.9" cy="919.0" r="2.4" fill="#3b5b9c"/>
<circle cx="587.9" cy="924.4" r="2.4" fill="#3b5b9c"/>
<path d="M604.3 958.9V866.2H624.0V958.9" fill="none" stroke="#f0a0a6" stroke-width="1.1"/>
<line x1="614.1" y1="872.7" x2="614.1" y2="856.5" stroke="#d12c38" stroke-width="1.1"/>
<line x1="609.1" y1="856.5" x2="619.1" y2="856.5" stroke="#d12c38" stroke-width="1.1"/>
<line x1="609.1" y1="872.7" x2="619.1" y2="872.7" stroke="#d12c38" stroke-width="1.1"/>
<rect x="611.8" y="854.1" width="4.8" height="4.8" fill="#d12c38"/>
<rect x="611.8" y="862.8" width="4.8" height="4.8" fill="#d12c38"/>
<rect x="611.8" y="870.3" width="4.8" height="4.8" fill="#d12c38"/>
<path d="M636.4 958.9V924.4H655.6V958.9" fill="none" stroke="#333" stroke-width="1.1"/>
<line x1="646.0" y1="932.0" x2="646.0" y2="916.9" stroke="#222" stroke-width="1.1"/>
<line x1="641.0" y1="916.9" x2="651.0" y2="916.9" stroke="#222" stroke-width="1.1"/>
<line x1="641.0" y1="932.0" x2="651.0" y2="932.0" stroke="#222" stroke-width="1.1"/>
<path d="M646.0 913.9L649.0 919.3L643.0 919.3Z" fill="#222"/>
<path d="M646.0 923.6L649.0 929.0L643.0 929.0Z" fill="#222"/>
<path d="M646.0 928.9L649.0 934.4L643.0 934.4Z" fill="#222"/>
<line x1="579.1" y1="845.9" x2="610.6" y2="845.9" stroke="#444" stroke-width="1.1"/>
<text x="595.9" y="846.8" font-size="12.5" text-anchor="middle" letter-spacing="1.8" stroke="#1a1a1a" stroke-width="0.22">***</text>
<line x1="618.0" y1="845.9" x2="649.5" y2="845.9" stroke="#444" stroke-width="1.1"/>
<text x="634.8" y="846.8" font-size="12.5" text-anchor="middle" letter-spacing="1.8" stroke="#1a1a1a" stroke-width="0.22">***</text>
<text transform="translate(534.6,894.0) rotate(-90)" y="3.78" font-size="10.5" font-weight="bold" text-anchor="middle">Spheroid formation</text>
</svg></body></html>
